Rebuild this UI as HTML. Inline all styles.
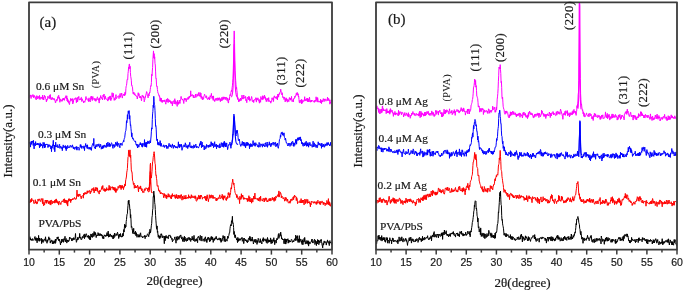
<!DOCTYPE html>
<html><head><meta charset="utf-8"><style>
html,body{margin:0;padding:0;background:#fff;}
body{width:685px;height:292px;overflow:hidden;}
svg{display:block;filter:blur(0.3px);}
.tk{font-family:"Liberation Sans",sans-serif;font-size:10.5px;fill:#1a1a1a;stroke:#1a1a1a;stroke-width:0.2px;}
.lt{font-family:"Liberation Serif",serif;fill:#1a1a1a;stroke:#1a1a1a;stroke-width:0.2px;}
.sm{font-family:"Liberation Serif",serif;font-size:11.4px;fill:#1a1a1a;stroke:#1a1a1a;stroke-width:0.2px;}
.pk{font-family:"Liberation Serif",serif;letter-spacing:0.4px;fill:#1a1a1a;stroke:#1a1a1a;stroke-width:0.2px;}
.pv{stroke-width:0.05px;}
.ax{font-family:"Liberation Serif",serif;font-size:13px;fill:#1a1a1a;stroke:#1a1a1a;stroke-width:0.2px;}
</style></head><body>
<svg width="685" height="292" viewBox="0 0 685 292">
<defs>
<clipPath id="cl"><rect x="29" y="2.3" width="303" height="247.3"/></clipPath>
<clipPath id="cr"><rect x="376" y="2.3" width="301" height="247.3"/></clipPath>
</defs>
<g>
<polyline fill="none" stroke="#ff00ff" stroke-width="1.0" stroke-linejoin="round" points="29.0,97.7 29.3,97.2 29.6,96.6 29.9,95.4 30.2,95.7 30.5,94.9 30.8,97.2 31.1,98.5 31.4,96.1 31.7,95.4 32.0,96.4 32.3,96.1 32.6,96.4 32.9,94.5 33.2,96.5 33.5,97.7 33.8,95.5 34.1,97.3 34.4,95.6 34.7,96.0 35.0,96.4 35.3,98.4 35.6,97.6 35.9,99.1 36.2,99.9 36.5,98.7 36.8,95.6 37.1,97.6 37.4,98.9 37.7,98.2 38.0,96.2 38.3,97.8 38.6,97.1 38.9,96.7 39.2,99.2 39.5,95.4 39.8,96.8 40.1,99.5 40.4,97.5 40.7,97.8 41.0,98.0 41.3,97.9 41.6,97.1 41.9,98.6 42.2,99.2 42.5,95.2 42.8,99.3 43.1,98.5 43.4,97.3 43.7,100.0 44.0,98.4 44.3,95.2 44.6,96.9 44.9,97.1 45.2,96.3 45.5,98.7 45.8,98.7 46.1,99.6 46.4,101.9 46.7,99.2 47.0,100.4 47.3,99.0 47.6,99.0 47.9,96.2 48.2,97.6 48.5,97.4 48.8,97.9 49.1,98.5 49.4,95.3 49.7,96.1 50.0,98.8 50.3,94.5 50.6,97.9 50.9,97.9 51.2,99.9 51.5,98.9 51.8,97.5 52.1,97.5 52.4,97.5 52.7,99.4 53.0,98.0 53.3,98.4 53.6,99.4 53.9,99.4 54.2,100.1 54.5,98.6 54.8,100.5 55.1,100.5 55.4,102.9 55.7,102.5 56.0,100.6 56.3,100.4 56.6,99.5 56.9,101.1 57.2,99.0 57.5,99.4 57.8,96.7 58.1,98.5 58.4,95.9 58.7,95.2 59.0,97.8 59.3,97.2 59.6,99.0 59.9,102.3 60.2,98.8 60.5,99.2 60.8,100.8 61.1,101.1 61.4,100.2 61.7,99.7 62.0,101.4 62.3,101.0 62.6,98.6 62.9,99.8 63.2,99.8 63.5,98.0 63.8,99.9 64.1,98.2 64.4,100.4 64.7,98.8 65.0,98.4 65.3,97.0 65.6,97.6 65.9,95.7 66.2,96.8 66.5,98.7 66.8,95.8 67.1,100.9 67.4,98.2 67.7,101.7 68.0,99.6 68.3,102.6 68.6,102.8 68.9,100.9 69.2,104.2 69.5,104.6 69.8,102.3 70.1,101.2 70.4,100.4 70.7,98.4 71.0,101.2 71.3,98.9 71.6,100.1 71.9,99.0 72.2,99.6 72.5,98.6 72.8,104.0 73.1,101.0 73.4,102.3 73.7,99.6 74.0,98.6 74.3,98.8 74.6,98.8 74.9,99.6 75.2,98.3 75.5,98.6 75.8,97.6 76.1,99.3 76.4,102.7 76.7,99.3 77.0,98.0 77.3,99.8 77.6,101.9 77.9,97.1 78.2,98.4 78.5,98.1 78.8,96.4 79.1,100.2 79.4,99.6 79.7,99.2 80.0,98.9 80.3,99.9 80.6,98.4 80.9,97.7 81.2,97.5 81.5,97.4 81.8,101.5 82.1,98.8 82.4,100.3 82.7,100.3 83.0,100.5 83.3,101.0 83.6,102.9 83.9,101.3 84.2,100.9 84.5,101.6 84.8,102.3 85.1,101.2 85.4,100.2 85.7,98.2 86.0,96.5 86.3,99.3 86.6,99.0 86.9,98.4 87.2,99.6 87.5,100.0 87.8,100.0 88.1,100.5 88.4,99.1 88.7,101.7 89.0,97.8 89.3,100.9 89.6,100.5 89.9,100.5 90.2,101.9 90.5,100.6 90.8,96.7 91.1,96.3 91.4,99.2 91.7,96.1 92.0,98.2 92.3,100.6 92.6,97.1 92.9,96.6 93.2,99.0 93.5,98.8 93.8,99.2 94.1,99.8 94.4,98.5 94.7,98.3 95.0,101.0 95.3,100.9 95.6,98.7 95.9,101.3 96.2,100.2 96.5,100.2 96.8,98.2 97.1,98.0 97.4,96.8 97.7,98.2 98.0,99.9 98.3,98.6 98.6,100.6 98.9,100.5 99.2,103.1 99.5,97.8 99.8,100.1 100.1,98.2 100.4,97.9 100.7,95.5 101.0,96.9 101.3,98.2 101.6,97.5 101.9,98.7 102.2,98.2 102.5,100.0 102.8,98.4 103.1,95.0 103.4,97.0 103.7,95.9 104.0,94.0 104.3,96.6 104.6,99.6 104.9,98.0 105.2,95.9 105.5,96.6 105.8,99.0 106.1,99.1 106.4,98.9 106.7,99.2 107.0,99.0 107.3,100.2 107.6,100.0 107.9,101.1 108.2,97.4 108.5,99.8 108.8,97.4 109.1,99.5 109.4,96.4 109.7,97.9 110.0,98.2 110.3,95.9 110.6,100.2 110.9,100.7 111.2,98.3 111.5,99.2 111.8,97.9 112.1,92.7 112.4,97.1 112.7,95.9 113.0,96.0 113.3,93.3 113.6,96.9 113.9,97.9 114.2,100.4 114.5,98.5 114.8,98.4 115.1,100.1 115.4,96.8 115.7,96.4 116.0,94.6 116.3,98.6 116.6,98.6 116.9,97.4 117.2,97.1 117.5,96.9 117.8,97.0 118.1,96.0 118.4,95.7 118.7,96.5 119.0,98.6 119.3,97.3 119.6,95.9 119.9,94.1 120.2,93.4 120.5,97.3 120.8,95.9 121.1,95.6 121.4,94.9 121.7,93.0 122.0,95.9 122.3,98.1 122.6,96.2 122.9,95.6 123.2,94.7 123.5,95.2 123.8,94.0 124.1,95.4 124.4,93.8 124.7,95.8 125.0,92.2 125.3,94.6 125.6,93.9 125.9,88.4 126.2,86.1 126.5,85.4 126.8,83.1 127.1,79.8 127.4,79.1 127.7,79.6 128.0,73.5 128.3,71.2 128.6,67.1 128.9,67.8 129.2,64.1 129.5,64.1 129.8,68.9 130.1,66.3 130.4,72.4 130.7,76.3 131.0,78.0 131.3,80.2 131.6,85.3 131.9,85.0 132.2,86.9 132.5,87.1 132.8,91.4 133.1,93.8 133.4,94.2 133.7,92.0 134.0,92.6 134.3,94.0 134.6,95.1 134.9,93.6 135.2,94.8 135.5,95.7 135.8,95.2 136.1,95.8 136.4,96.4 136.7,95.9 137.0,97.1 137.3,99.0 137.6,96.8 137.9,95.6 138.2,92.7 138.5,95.6 138.8,93.6 139.1,93.7 139.4,97.8 139.7,97.4 140.0,97.5 140.3,96.0 140.6,98.0 140.9,97.1 141.2,99.3 141.5,100.8 141.8,98.1 142.1,95.2 142.4,95.3 142.7,96.7 143.0,97.1 143.3,95.8 143.6,98.0 143.9,97.1 144.2,101.8 144.5,100.5 144.8,99.8 145.1,96.7 145.4,97.4 145.7,95.3 146.0,94.2 146.3,93.2 146.6,91.6 146.9,91.8 147.2,95.6 147.5,95.5 147.8,96.6 148.1,97.9 148.4,93.7 148.7,94.6 149.0,96.0 149.3,94.5 149.6,92.0 149.9,92.6 150.2,89.8 150.5,87.3 150.8,85.7 151.1,86.2 151.4,82.4 151.7,74.3 152.0,75.8 152.3,71.0 152.6,67.5 152.9,59.7 153.2,54.9 153.5,50.9 153.8,57.9 154.1,53.6 154.4,59.1 154.7,56.8 155.0,63.3 155.3,65.0 155.6,71.9 155.9,78.4 156.2,78.1 156.5,84.9 156.8,86.5 157.1,86.1 157.4,89.4 157.7,91.4 158.0,93.3 158.3,93.4 158.6,94.0 158.9,95.8 159.2,96.3 159.5,95.6 159.8,98.3 160.1,101.2 160.4,97.8 160.7,101.3 161.0,100.0 161.3,98.1 161.6,101.6 161.9,100.6 162.2,102.6 162.5,100.3 162.8,101.5 163.1,101.1 163.4,100.7 163.7,101.4 164.0,100.0 164.3,101.6 164.6,101.1 164.9,99.8 165.2,102.1 165.5,102.6 165.8,104.2 166.1,100.8 166.4,101.4 166.7,99.1 167.0,102.1 167.3,99.1 167.6,98.4 167.9,100.4 168.2,102.6 168.5,99.4 168.8,99.4 169.1,99.7 169.4,100.2 169.7,102.0 170.0,100.4 170.3,100.8 170.6,102.8 170.9,101.5 171.2,103.8 171.5,102.0 171.8,101.9 172.1,101.4 172.4,105.9 172.7,102.6 173.0,102.5 173.3,101.0 173.6,100.8 173.9,100.8 174.2,104.0 174.5,99.5 174.8,98.7 175.1,100.5 175.4,100.4 175.7,104.1 176.0,104.3 176.3,102.4 176.6,101.7 176.9,103.7 177.2,106.4 177.5,100.2 177.8,104.0 178.1,102.0 178.4,104.4 178.7,101.9 179.0,103.1 179.3,100.1 179.6,101.3 179.9,103.6 180.2,101.7 180.5,99.6 180.8,98.4 181.1,96.4 181.4,98.7 181.7,98.4 182.0,99.4 182.3,100.0 182.6,99.1 182.9,100.3 183.2,100.2 183.5,102.1 183.8,103.5 184.1,99.3 184.4,98.2 184.7,100.2 185.0,98.8 185.3,99.1 185.6,99.8 185.9,98.2 186.2,101.7 186.5,100.0 186.8,99.2 187.1,99.8 187.4,98.4 187.7,97.7 188.0,98.6 188.3,97.3 188.6,99.3 188.9,98.4 189.2,96.2 189.5,97.7 189.8,96.1 190.1,97.0 190.4,96.4 190.7,90.8 191.0,96.1 191.3,95.5 191.6,96.1 191.9,94.9 192.2,94.4 192.5,95.2 192.8,96.2 193.1,96.7 193.4,97.8 193.7,95.0 194.0,97.3 194.3,97.9 194.6,97.2 194.9,96.8 195.2,97.4 195.5,94.0 195.8,96.9 196.1,97.3 196.4,96.6 196.7,95.8 197.0,93.9 197.3,94.7 197.6,96.2 197.9,96.2 198.2,94.9 198.5,92.6 198.8,95.3 199.1,96.0 199.4,96.2 199.7,94.5 200.0,92.4 200.3,96.7 200.6,95.6 200.9,93.1 201.2,98.5 201.5,95.9 201.8,96.4 202.1,97.6 202.4,99.9 202.7,97.3 203.0,98.3 203.3,99.4 203.6,99.1 203.9,96.1 204.2,95.7 204.5,94.2 204.8,94.7 205.1,96.2 205.4,96.5 205.7,96.5 206.0,97.9 206.3,95.9 206.6,95.8 206.9,98.5 207.2,98.9 207.5,99.5 207.8,98.4 208.1,98.4 208.4,99.0 208.7,97.6 209.0,96.9 209.3,100.0 209.6,98.4 209.9,99.1 210.2,95.6 210.5,97.1 210.8,96.5 211.1,95.6 211.4,93.4 211.7,96.6 212.0,98.6 212.3,98.4 212.6,96.1 212.9,98.3 213.2,100.4 213.5,95.9 213.8,99.4 214.1,100.2 214.4,99.8 214.7,101.6 215.0,101.1 215.3,98.9 215.6,98.7 215.9,100.1 216.2,98.1 216.5,99.2 216.8,99.9 217.1,100.7 217.4,97.8 217.7,98.8 218.0,98.5 218.3,100.1 218.6,98.0 218.9,100.3 219.2,97.6 219.5,99.0 219.8,98.9 220.1,100.5 220.4,101.7 220.7,98.6 221.0,99.8 221.3,100.8 221.6,99.3 221.9,97.3 222.2,100.5 222.5,98.3 222.8,98.5 223.1,96.8 223.4,99.3 223.7,97.5 224.0,99.4 224.3,96.9 224.6,97.4 224.9,98.2 225.2,97.3 225.5,99.5 225.8,98.8 226.1,97.1 226.4,98.0 226.7,98.0 227.0,100.5 227.3,97.9 227.6,98.7 227.9,101.4 228.2,102.8 228.5,103.0 228.8,99.6 229.1,98.5 229.4,100.0 229.7,96.6 230.0,94.6 230.3,95.7 230.6,95.3 230.9,92.4 231.2,91.2 231.5,90.1 231.8,91.7 232.1,87.6 232.4,85.8 232.7,82.3 233.0,78.6 233.3,68.8 233.6,59.0 233.9,40.0 234.2,30.9 234.5,39.3 234.8,60.5 235.1,70.8 235.4,76.0 235.7,80.7 236.0,84.8 236.3,88.7 236.6,87.4 236.9,90.7 237.2,92.8 237.5,99.4 237.8,97.4 238.1,98.0 238.4,99.8 238.7,101.9 239.0,99.2 239.3,99.2 239.6,101.3 239.9,100.0 240.2,99.8 240.5,98.0 240.8,100.9 241.1,100.4 241.4,99.0 241.7,99.3 242.0,95.1 242.3,98.9 242.6,97.7 242.9,98.8 243.2,99.0 243.5,96.6 243.8,95.0 244.1,98.4 244.4,97.4 244.7,97.1 245.0,97.4 245.3,97.7 245.6,96.4 245.9,100.7 246.2,99.4 246.5,101.1 246.8,102.7 247.1,99.5 247.4,97.0 247.7,97.5 248.0,97.9 248.3,99.7 248.6,99.3 248.9,96.1 249.2,100.0 249.5,97.2 249.8,101.2 250.1,100.6 250.4,99.2 250.7,99.7 251.0,99.2 251.3,98.1 251.6,96.5 251.9,97.6 252.2,101.2 252.5,101.7 252.8,100.6 253.1,100.7 253.4,100.0 253.7,102.6 254.0,100.3 254.3,99.5 254.6,99.7 254.9,100.3 255.2,99.0 255.5,99.2 255.8,97.7 256.1,98.7 256.4,102.1 256.7,98.2 257.0,98.3 257.3,99.7 257.6,100.1 257.9,97.8 258.2,98.9 258.5,100.9 258.8,100.8 259.1,100.7 259.4,103.2 259.7,99.5 260.0,100.0 260.3,100.1 260.6,102.3 260.9,96.5 261.2,98.5 261.5,98.0 261.8,99.7 262.1,99.4 262.4,99.6 262.7,95.7 263.0,99.5 263.3,97.7 263.6,96.6 263.9,98.6 264.2,96.6 264.5,95.1 264.8,98.1 265.1,96.7 265.4,97.1 265.7,100.1 266.0,99.4 266.3,101.7 266.6,99.8 266.9,98.3 267.2,99.1 267.5,99.8 267.8,98.4 268.1,101.5 268.4,99.7 268.7,97.6 269.0,101.4 269.3,100.6 269.6,100.9 269.9,101.6 270.2,102.0 270.5,101.2 270.8,103.2 271.1,100.8 271.4,101.0 271.7,101.4 272.0,97.8 272.3,99.2 272.6,99.5 272.9,99.8 273.2,97.7 273.5,101.5 273.8,97.4 274.1,96.4 274.4,95.8 274.7,97.5 275.0,97.8 275.3,96.8 275.6,97.8 275.9,97.3 276.2,98.8 276.5,96.5 276.8,96.8 277.1,97.9 277.4,99.9 277.7,94.2 278.0,94.9 278.3,94.3 278.6,97.2 278.9,94.0 279.2,93.6 279.5,94.4 279.8,92.4 280.1,92.0 280.4,91.9 280.7,89.1 281.0,90.8 281.3,93.5 281.6,94.6 281.9,94.7 282.2,92.7 282.5,95.4 282.8,97.8 283.1,97.5 283.4,97.6 283.7,96.8 284.0,99.5 284.3,98.1 284.6,97.3 284.9,98.5 285.2,101.9 285.5,99.3 285.8,100.5 286.1,97.8 286.4,100.6 286.7,98.7 287.0,98.9 287.3,102.2 287.6,100.5 287.9,99.4 288.2,100.8 288.5,100.2 288.8,101.7 289.1,99.1 289.4,97.5 289.7,99.4 290.0,99.4 290.3,98.0 290.6,100.2 290.9,98.7 291.2,99.1 291.5,96.4 291.8,100.0 292.1,101.6 292.4,100.9 292.7,100.4 293.0,99.6 293.3,102.0 293.6,98.6 293.9,99.1 294.2,98.9 294.5,98.5 294.8,96.3 295.1,97.3 295.4,95.6 295.7,95.7 296.0,95.2 296.3,93.2 296.6,94.4 296.9,95.3 297.2,92.4 297.5,93.7 297.8,95.1 298.1,93.7 298.4,96.9 298.7,96.0 299.0,99.6 299.3,102.7 299.6,102.9 299.9,100.4 300.2,101.3 300.5,100.4 300.8,101.0 301.1,103.1 301.4,99.3 301.7,103.9 302.0,101.1 302.3,102.7 302.6,102.8 302.9,99.8 303.2,101.2 303.5,101.5 303.8,101.3 304.1,101.3 304.4,100.1 304.7,96.7 305.0,101.0 305.3,100.8 305.6,99.7 305.9,99.0 306.2,100.7 306.5,98.5 306.8,99.0 307.1,100.2 307.4,101.5 307.7,98.0 308.0,101.8 308.3,99.6 308.6,99.0 308.9,102.0 309.2,99.1 309.5,97.1 309.8,99.9 310.1,101.9 310.4,102.2 310.7,100.4 311.0,100.9 311.3,101.9 311.6,100.0 311.9,101.2 312.2,101.1 312.5,100.7 312.8,100.4 313.1,101.4 313.4,101.6 313.7,101.3 314.0,101.1 314.3,102.4 314.6,100.4 314.9,101.5 315.2,101.6 315.5,100.1 315.8,101.2 316.1,96.8 316.4,99.8 316.7,98.3 317.0,101.4 317.3,102.1 317.6,97.5 317.9,99.1 318.2,101.8 318.5,101.4 318.8,102.2 319.1,101.4 319.4,101.5 319.7,101.5 320.0,100.9 320.3,102.6 320.6,99.2 320.9,103.0 321.2,100.4 321.5,103.6 321.8,101.4 322.1,100.4 322.4,101.9 322.7,100.6 323.0,100.0 323.3,98.6 323.6,100.5 323.9,101.6 324.2,101.6 324.5,99.1 324.8,100.1 325.1,98.8 325.4,99.4 325.7,100.3 326.0,101.2 326.3,99.6 326.6,99.9 326.9,99.6 327.2,99.6 327.5,97.1 327.8,100.8 328.1,98.5 328.4,100.2 328.7,98.5 329.0,100.7 329.3,100.7 329.6,99.8 329.9,104.2 330.2,102.1 330.5,103.1 330.8,101.7 331.1,99.8 331.4,100.6 331.7,101.2 332.0,100.2"/>
<polyline fill="none" stroke="#ff00ff" stroke-width="1.1" stroke-linejoin="round" points="231.3,97.1 231.5,96.8 231.6,96.5 231.8,96.2 231.9,95.8 232.1,95.3 232.2,94.8 232.3,94.1 232.5,93.2 232.6,92.2 232.8,90.8 232.9,89.1 233.1,86.8 233.2,83.7 233.3,79.8 233.5,74.7 233.6,68.3 233.8,60.9 233.9,53.1 234.1,46.9 234.2,44.4 234.3,46.9 234.5,53.1 234.6,60.9 234.8,68.3 234.9,74.7 235.1,79.8 235.2,83.7 235.3,86.8 235.5,89.1 235.6,90.8 235.8,92.2 235.9,93.2 236.1,94.1 236.2,94.8 236.3,95.3 236.5,95.8 236.6,96.2 236.8,96.5 236.9,96.8 237.1,97.1"/>
<polyline fill="none" stroke="#0000ff" stroke-width="1.0" stroke-linejoin="round" points="29.0,142.6 29.3,142.6 29.6,142.2 29.9,144.0 30.2,143.9 30.5,147.1 30.8,142.2 31.1,141.5 31.4,144.4 31.7,141.2 32.0,142.3 32.3,142.4 32.6,140.9 32.9,142.5 33.2,145.5 33.5,140.4 33.8,145.1 34.1,148.9 34.4,143.4 34.7,143.6 35.0,144.6 35.3,145.9 35.6,141.6 35.9,144.1 36.2,143.7 36.5,145.0 36.8,144.4 37.1,144.6 37.4,143.2 37.7,144.8 38.0,143.0 38.3,143.9 38.6,144.9 38.9,144.8 39.2,144.2 39.5,147.9 39.8,144.7 40.1,142.8 40.4,146.5 40.7,143.7 41.0,145.9 41.3,144.1 41.6,145.1 41.9,146.0 42.2,145.4 42.5,145.9 42.8,148.2 43.1,142.3 43.4,145.9 43.7,146.2 44.0,143.1 44.3,142.6 44.6,148.0 44.9,144.1 45.2,147.4 45.5,145.3 45.8,144.0 46.1,144.4 46.4,144.2 46.7,144.9 47.0,144.1 47.3,144.2 47.6,145.5 47.9,147.6 48.2,147.3 48.5,145.0 48.8,144.5 49.1,146.7 49.4,145.1 49.7,145.1 50.0,145.1 50.3,146.0 50.6,147.1 50.9,149.0 51.2,146.9 51.5,151.7 51.8,145.9 52.1,148.2 52.4,146.0 52.7,145.0 53.0,143.8 53.3,140.3 53.6,146.2 53.9,146.6 54.2,149.5 54.5,145.1 54.8,151.8 55.1,145.8 55.4,146.8 55.7,142.2 56.0,146.6 56.3,146.1 56.6,146.8 56.9,146.6 57.2,144.6 57.5,147.5 57.8,146.9 58.1,146.5 58.4,146.9 58.7,147.7 59.0,146.1 59.3,144.1 59.6,144.4 59.9,148.4 60.2,147.7 60.5,147.0 60.8,146.2 61.1,147.7 61.4,148.5 61.7,148.0 62.0,146.9 62.3,150.7 62.6,147.8 62.9,146.5 63.2,144.9 63.5,145.7 63.8,147.9 64.1,147.9 64.4,146.3 64.7,146.6 65.0,146.7 65.3,145.5 65.6,148.8 65.9,146.7 66.2,150.7 66.5,146.6 66.8,147.8 67.1,148.8 67.4,146.9 67.7,145.4 68.0,146.5 68.3,147.5 68.6,147.9 68.9,146.8 69.2,147.5 69.5,147.5 69.8,146.2 70.1,145.5 70.4,145.2 70.7,145.8 71.0,147.3 71.3,146.7 71.6,147.2 71.9,145.8 72.2,145.2 72.5,144.9 72.8,147.2 73.1,146.9 73.4,148.8 73.7,146.9 74.0,148.4 74.3,148.5 74.6,149.4 74.9,147.0 75.2,147.3 75.5,147.6 75.8,146.8 76.1,149.3 76.4,149.5 76.7,146.4 77.0,150.2 77.3,147.5 77.6,147.7 77.9,147.3 78.2,147.0 78.5,148.1 78.8,148.4 79.1,150.3 79.4,148.2 79.7,148.0 80.0,147.5 80.3,144.6 80.6,146.7 80.9,144.7 81.2,147.5 81.5,146.1 81.8,148.5 82.1,146.2 82.4,146.5 82.7,146.4 83.0,146.9 83.3,147.6 83.6,148.3 83.9,145.8 84.2,147.2 84.5,150.6 84.8,146.6 85.1,146.9 85.4,145.3 85.7,143.5 86.0,146.4 86.3,145.3 86.6,145.6 86.9,148.0 87.2,148.5 87.5,144.8 87.8,148.6 88.1,148.8 88.4,148.9 88.7,148.7 89.0,147.0 89.3,149.0 89.6,148.2 89.9,147.5 90.2,149.6 90.5,148.0 90.8,147.3 91.1,148.4 91.4,150.4 91.7,147.8 92.0,145.9 92.3,144.7 92.6,144.8 92.9,143.4 93.2,144.9 93.5,145.5 93.8,138.4 94.1,146.3 94.4,147.6 94.7,147.5 95.0,147.0 95.3,149.0 95.6,145.6 95.9,145.0 96.2,144.4 96.5,146.1 96.8,147.1 97.1,146.6 97.4,145.6 97.7,144.3 98.0,145.4 98.3,145.8 98.6,146.1 98.9,143.8 99.2,146.5 99.5,147.5 99.8,145.9 100.1,146.7 100.4,144.1 100.7,144.5 101.0,146.1 101.3,149.2 101.6,148.8 101.9,146.8 102.2,148.5 102.5,145.8 102.8,148.7 103.1,147.2 103.4,145.4 103.7,147.8 104.0,146.2 104.3,145.8 104.6,144.9 104.9,147.0 105.2,146.8 105.5,146.7 105.8,145.6 106.1,147.6 106.4,144.9 106.7,143.1 107.0,146.6 107.3,146.6 107.6,144.9 107.9,142.1 108.2,143.5 108.5,145.4 108.8,144.7 109.1,146.9 109.4,142.9 109.7,145.6 110.0,144.1 110.3,146.5 110.6,144.7 110.9,145.7 111.2,143.8 111.5,142.7 111.8,143.4 112.1,144.3 112.4,144.5 112.7,147.9 113.0,148.4 113.3,146.7 113.6,144.6 113.9,145.9 114.2,144.5 114.5,147.4 114.8,146.0 115.1,146.3 115.4,144.9 115.7,142.2 116.0,143.7 116.3,143.2 116.6,145.5 116.9,144.5 117.2,141.7 117.5,143.7 117.8,146.6 118.1,143.0 118.4,143.7 118.7,144.7 119.0,144.5 119.3,145.2 119.6,145.8 119.9,147.8 120.2,143.1 120.5,145.0 120.8,144.2 121.1,143.7 121.4,143.4 121.7,143.5 122.0,145.5 122.3,143.4 122.6,142.8 122.9,142.3 123.2,141.8 123.5,140.5 123.8,141.8 124.1,139.3 124.4,138.2 124.7,137.7 125.0,135.0 125.3,132.3 125.6,131.2 125.9,130.4 126.2,127.0 126.5,120.7 126.8,122.9 127.1,121.4 127.4,114.7 127.7,119.1 128.0,113.6 128.3,110.8 128.6,113.5 128.9,111.0 129.2,110.7 129.5,119.1 129.8,115.5 130.1,120.8 130.4,125.5 130.7,124.8 131.0,128.8 131.3,131.8 131.6,136.7 131.9,132.9 132.2,136.8 132.5,138.7 132.8,138.0 133.1,137.9 133.4,140.1 133.7,139.8 134.0,140.6 134.3,140.8 134.6,141.3 134.9,141.2 135.2,141.6 135.5,140.9 135.8,143.2 136.1,144.7 136.4,144.1 136.7,145.5 137.0,144.0 137.3,146.7 137.6,148.0 137.9,144.4 138.2,145.4 138.5,145.1 138.8,147.2 139.1,145.8 139.4,145.4 139.7,144.1 140.0,144.2 140.3,142.5 140.6,145.0 140.9,143.0 141.2,144.9 141.5,144.4 141.8,146.5 142.1,144.3 142.4,147.2 142.7,143.3 143.0,144.5 143.3,143.5 143.6,144.4 143.9,144.9 144.2,146.5 144.5,139.6 144.8,145.0 145.1,143.0 145.4,147.0 145.7,142.5 146.0,143.9 146.3,142.2 146.6,147.3 146.9,142.4 147.2,144.0 147.5,143.0 147.8,140.9 148.1,141.9 148.4,143.0 148.7,141.5 149.0,143.9 149.3,142.6 149.6,142.6 149.9,140.6 150.2,141.4 150.5,143.0 150.8,139.0 151.1,136.0 151.4,131.2 151.7,127.8 152.0,129.1 152.3,119.6 152.6,113.9 152.9,111.3 153.2,105.2 153.5,107.5 153.8,96.3 154.1,101.2 154.4,104.8 154.7,105.4 155.0,110.7 155.3,118.7 155.6,126.3 155.9,125.7 156.2,129.1 156.5,137.0 156.8,140.6 157.1,139.4 157.4,139.0 157.7,144.5 158.0,142.5 158.3,145.2 158.6,143.1 158.9,142.3 159.2,143.2 159.5,145.0 159.8,145.4 160.1,140.6 160.4,142.1 160.7,146.3 161.0,144.0 161.3,143.3 161.6,145.9 161.9,146.4 162.2,146.0 162.5,145.9 162.8,146.3 163.1,146.5 163.4,146.7 163.7,144.8 164.0,145.3 164.3,146.0 164.6,147.5 164.9,146.9 165.2,145.4 165.5,145.9 165.8,145.6 166.1,146.3 166.4,145.1 166.7,148.5 167.0,147.8 167.3,146.5 167.6,146.4 167.9,148.6 168.2,147.7 168.5,146.9 168.8,144.3 169.1,143.3 169.4,146.1 169.7,146.5 170.0,146.4 170.3,144.7 170.6,146.8 170.9,145.0 171.2,147.4 171.5,147.7 171.8,146.7 172.1,146.8 172.4,143.9 172.7,145.9 173.0,145.0 173.3,148.4 173.6,146.6 173.9,147.1 174.2,146.5 174.5,145.1 174.8,146.8 175.1,146.1 175.4,147.9 175.7,147.7 176.0,146.6 176.3,147.6 176.6,148.0 176.9,146.7 177.2,148.1 177.5,148.2 177.8,146.4 178.1,145.9 178.4,141.8 178.7,146.0 179.0,147.3 179.3,144.2 179.6,147.7 179.9,146.5 180.2,144.9 180.5,145.7 180.8,144.4 181.1,147.1 181.4,144.3 181.7,146.3 182.0,150.3 182.3,148.0 182.6,148.2 182.9,147.3 183.2,145.7 183.5,146.3 183.8,146.3 184.1,144.7 184.4,146.0 184.7,146.8 185.0,147.0 185.3,142.8 185.6,144.4 185.9,144.0 186.2,147.5 186.5,146.4 186.8,147.2 187.1,145.5 187.4,145.8 187.7,148.6 188.0,147.0 188.3,144.8 188.6,146.7 188.9,147.1 189.2,145.9 189.5,144.1 189.8,142.3 190.1,145.7 190.4,147.6 190.7,146.7 191.0,145.8 191.3,145.8 191.6,148.1 191.9,147.3 192.2,147.2 192.5,146.0 192.8,146.5 193.1,148.4 193.4,145.6 193.7,144.8 194.0,145.7 194.3,147.8 194.6,145.6 194.9,147.2 195.2,145.5 195.5,145.5 195.8,144.1 196.1,145.5 196.4,147.8 196.7,146.4 197.0,147.5 197.3,146.6 197.6,146.8 197.9,146.8 198.2,147.2 198.5,148.1 198.8,146.9 199.1,146.5 199.4,146.0 199.7,143.8 200.0,144.6 200.3,142.6 200.6,144.7 200.9,141.0 201.2,144.3 201.5,147.7 201.8,144.0 202.1,142.1 202.4,144.9 202.7,147.0 203.0,145.8 203.3,145.6 203.6,145.5 203.9,145.3 204.2,150.0 204.5,146.7 204.8,146.0 205.1,145.8 205.4,148.3 205.7,149.1 206.0,148.4 206.3,147.3 206.6,144.4 206.9,147.4 207.2,146.7 207.5,146.3 207.8,145.3 208.1,145.9 208.4,145.2 208.7,147.5 209.0,145.1 209.3,146.1 209.6,146.8 209.9,144.5 210.2,145.4 210.5,145.0 210.8,146.8 211.1,141.7 211.4,145.2 211.7,142.7 212.0,143.8 212.3,145.9 212.6,143.2 212.9,144.5 213.2,143.7 213.5,147.7 213.8,146.4 214.1,146.5 214.4,142.7 214.7,141.7 215.0,146.8 215.3,145.4 215.6,144.9 215.9,146.2 216.2,144.0 216.5,148.8 216.8,146.6 217.1,146.9 217.4,145.2 217.7,146.8 218.0,144.9 218.3,147.2 218.6,147.0 218.9,147.1 219.2,147.9 219.5,147.9 219.8,143.7 220.1,147.8 220.4,147.1 220.7,147.0 221.0,145.6 221.3,142.6 221.6,142.9 221.9,145.0 222.2,146.8 222.5,143.3 222.8,143.4 223.1,146.4 223.4,142.6 223.7,147.3 224.0,144.2 224.3,141.2 224.6,145.4 224.9,146.3 225.2,142.7 225.5,146.8 225.8,144.1 226.1,146.8 226.4,144.7 226.7,142.9 227.0,145.8 227.3,146.8 227.6,149.6 227.9,148.5 228.2,146.4 228.5,144.7 228.8,144.9 229.1,144.9 229.4,143.9 229.7,143.7 230.0,142.1 230.3,146.1 230.6,145.5 230.9,148.3 231.2,146.4 231.5,144.3 231.8,145.0 232.1,140.7 232.4,139.3 232.7,134.5 233.0,135.1 233.3,127.2 233.6,117.1 233.9,114.1 234.2,115.2 234.5,119.1 234.8,124.7 235.1,127.9 235.4,132.8 235.7,135.0 236.0,136.0 236.3,130.8 236.6,130.6 236.9,133.5 237.2,130.1 237.5,132.9 237.8,133.7 238.1,137.7 238.4,140.4 238.7,140.0 239.0,140.7 239.3,139.1 239.6,141.1 239.9,143.9 240.2,144.9 240.5,144.8 240.8,146.4 241.1,144.5 241.4,144.4 241.7,145.2 242.0,142.9 242.3,141.4 242.6,142.1 242.9,145.4 243.2,142.0 243.5,144.2 243.8,142.0 244.1,146.1 244.4,143.5 244.7,146.2 245.0,142.6 245.3,145.1 245.6,147.8 245.9,144.5 246.2,145.8 246.5,145.2 246.8,142.1 247.1,145.3 247.4,145.4 247.7,142.4 248.0,145.3 248.3,143.5 248.6,143.2 248.9,145.2 249.2,144.8 249.5,148.8 249.8,144.1 250.1,146.7 250.4,146.8 250.7,143.5 251.0,144.0 251.3,146.5 251.6,144.4 251.9,145.5 252.2,146.6 252.5,144.7 252.8,143.8 253.1,140.6 253.4,145.2 253.7,144.0 254.0,145.5 254.3,145.3 254.6,142.8 254.9,146.2 255.2,146.3 255.5,145.0 255.8,142.7 256.1,143.8 256.4,144.2 256.7,144.8 257.0,144.3 257.3,146.1 257.6,146.9 257.9,146.6 258.2,145.2 258.5,147.3 258.8,146.8 259.1,142.4 259.4,144.0 259.7,144.4 260.0,147.2 260.3,144.2 260.6,143.9 260.9,143.7 261.2,145.5 261.5,144.4 261.8,144.9 262.1,144.7 262.4,147.2 262.7,145.9 263.0,143.7 263.3,146.0 263.6,144.4 263.9,145.6 264.2,145.3 264.5,146.9 264.8,146.4 265.1,143.2 265.4,144.0 265.7,142.7 266.0,146.6 266.3,145.0 266.6,145.3 266.9,143.7 267.2,142.0 267.5,147.3 267.8,145.2 268.1,144.6 268.4,145.0 268.7,145.3 269.0,143.9 269.3,141.8 269.6,145.1 269.9,143.3 270.2,143.8 270.5,146.0 270.8,146.8 271.1,145.5 271.4,143.0 271.7,145.4 272.0,145.1 272.3,144.5 272.6,143.2 272.9,142.9 273.2,142.0 273.5,144.3 273.8,145.0 274.1,145.4 274.4,142.7 274.7,143.4 275.0,144.0 275.3,142.5 275.6,142.3 275.9,146.8 276.2,144.4 276.5,145.8 276.8,144.2 277.1,145.1 277.4,143.0 277.7,145.9 278.0,147.7 278.3,148.3 278.6,146.3 278.9,145.1 279.2,141.9 279.5,139.4 279.8,138.9 280.1,138.5 280.4,135.3 280.7,137.1 281.0,133.6 281.3,132.6 281.6,133.7 281.9,132.3 282.2,131.9 282.5,135.2 282.8,133.1 283.1,133.2 283.4,135.3 283.7,135.6 284.0,132.8 284.3,137.1 284.6,137.7 284.9,138.1 285.2,140.1 285.5,138.1 285.8,139.7 286.1,141.9 286.4,143.0 286.7,142.9 287.0,143.0 287.3,144.3 287.6,145.8 287.9,145.4 288.2,145.9 288.5,143.7 288.8,143.0 289.1,144.4 289.4,144.1 289.7,143.4 290.0,146.4 290.3,144.2 290.6,143.5 290.9,144.2 291.2,145.4 291.5,142.4 291.8,144.0 292.1,141.6 292.4,141.5 292.7,141.1 293.0,143.0 293.3,146.0 293.6,142.9 293.9,146.5 294.2,142.8 294.5,144.1 294.8,145.3 295.1,144.0 295.4,143.4 295.7,139.4 296.0,142.0 296.3,139.9 296.6,144.2 296.9,139.3 297.2,140.5 297.5,138.1 297.8,138.9 298.1,137.5 298.4,140.3 298.7,138.0 299.0,139.2 299.3,137.2 299.6,137.4 299.9,140.0 300.2,137.8 300.5,136.9 300.8,140.9 301.1,139.4 301.4,141.0 301.7,143.8 302.0,142.3 302.3,144.2 302.6,142.7 302.9,145.9 303.2,146.3 303.5,143.3 303.8,143.4 304.1,143.1 304.4,144.8 304.7,146.0 305.0,142.5 305.3,145.1 305.6,142.8 305.9,143.0 306.2,141.2 306.5,146.3 306.8,143.9 307.1,144.4 307.4,143.2 307.7,146.1 308.0,142.5 308.3,144.8 308.6,147.2 308.9,144.0 309.2,144.2 309.5,145.2 309.8,142.3 310.1,143.1 310.4,145.7 310.7,145.5 311.0,145.8 311.3,144.7 311.6,144.9 311.9,145.1 312.2,147.3 312.5,145.6 312.8,145.0 313.1,141.2 313.4,146.0 313.7,146.9 314.0,144.0 314.3,142.8 314.6,143.8 314.9,146.6 315.2,144.3 315.5,144.6 315.8,145.8 316.1,147.6 316.4,145.5 316.7,146.0 317.0,144.8 317.3,147.7 317.6,146.5 317.9,144.7 318.2,141.8 318.5,143.5 318.8,144.8 319.1,143.0 319.4,145.1 319.7,144.5 320.0,144.6 320.3,145.5 320.6,145.7 320.9,143.5 321.2,144.5 321.5,148.3 321.8,143.1 322.1,145.0 322.4,146.9 322.7,145.3 323.0,144.9 323.3,144.0 323.6,146.1 323.9,147.0 324.2,147.3 324.5,145.6 324.8,146.5 325.1,143.8 325.4,145.7 325.7,144.1 326.0,144.9 326.3,145.2 326.6,145.4 326.9,142.6 327.2,145.5 327.5,142.8 327.8,143.0 328.1,144.6 328.4,142.5 328.7,144.6 329.0,144.7 329.3,144.8 329.6,146.0 329.9,144.5 330.2,145.0 330.5,142.4 330.8,145.7 331.1,145.6 331.4,145.4 331.7,146.1 332.0,146.6"/>
<polyline fill="none" stroke="#0000ff" stroke-width="1.1" stroke-linejoin="round" points="230.1,144.7 230.3,144.6 230.5,144.5 230.7,144.4 230.9,144.3 231.1,144.1 231.3,144.0 231.5,143.7 231.7,143.4 231.9,143.0 232.1,142.4 232.3,141.5 232.5,140.2 232.7,138.3 232.9,135.9 233.1,132.7 233.3,129.0 233.5,124.9 233.7,120.9 233.9,118.0 234.1,116.8 234.3,118.0 234.5,120.9 234.7,124.8 234.9,128.9 235.1,132.7 235.3,135.8 235.5,138.3 235.7,140.1 235.9,141.4 236.1,142.3 236.3,142.9 236.5,143.3 236.7,143.6 236.9,143.8 237.1,144.0 237.3,144.1 237.5,144.2 237.7,144.3 237.9,144.4 238.1,144.5"/>
<polyline fill="none" stroke="#ff0000" stroke-width="1.0" stroke-linejoin="round" points="29.0,201.7 29.3,202.2 29.6,202.0 29.9,203.0 30.2,200.4 30.5,200.1 30.8,202.1 31.1,199.1 31.4,201.9 31.7,198.3 32.0,199.4 32.3,199.7 32.6,200.5 32.9,199.9 33.2,200.0 33.5,200.9 33.8,203.2 34.1,203.8 34.4,203.4 34.7,202.4 35.0,201.6 35.3,199.7 35.6,203.1 35.9,202.9 36.2,201.5 36.5,203.0 36.8,204.1 37.1,202.8 37.4,203.3 37.7,201.5 38.0,199.0 38.3,200.1 38.6,200.2 38.9,201.2 39.2,198.8 39.5,199.7 39.8,199.5 40.1,200.2 40.4,200.6 40.7,201.6 41.0,200.2 41.3,198.5 41.6,199.7 41.9,200.0 42.2,200.5 42.5,203.6 42.8,198.5 43.1,203.0 43.4,204.5 43.7,205.8 44.0,202.2 44.3,204.6 44.6,205.0 44.9,202.7 45.2,200.2 45.5,201.2 45.8,200.2 46.1,203.0 46.4,200.2 46.7,203.4 47.0,201.4 47.3,200.1 47.6,201.3 47.9,200.6 48.2,201.8 48.5,203.7 48.8,201.6 49.1,203.2 49.4,201.3 49.7,202.0 50.0,204.5 50.3,200.4 50.6,204.6 50.9,205.1 51.2,200.3 51.5,200.1 51.8,201.1 52.1,204.0 52.4,201.4 52.7,201.6 53.0,202.5 53.3,202.6 53.6,201.7 53.9,201.1 54.2,203.0 54.5,200.4 54.8,203.2 55.1,200.0 55.4,199.6 55.7,202.4 56.0,202.6 56.3,198.9 56.6,202.4 56.9,200.4 57.2,201.5 57.5,203.3 57.8,201.4 58.1,202.2 58.4,202.0 58.7,205.1 59.0,202.8 59.3,201.1 59.6,201.7 59.9,202.1 60.2,203.9 60.5,203.4 60.8,204.6 61.1,203.7 61.4,202.4 61.7,202.1 62.0,200.9 62.3,201.4 62.6,202.0 62.9,201.5 63.2,200.1 63.5,199.3 63.8,201.4 64.1,202.6 64.4,198.7 64.7,201.6 65.0,202.9 65.3,201.1 65.6,199.9 65.9,203.0 66.2,202.9 66.5,200.4 66.8,203.7 67.1,204.5 67.4,200.6 67.7,206.1 68.0,200.9 68.3,201.6 68.6,198.9 68.9,200.4 69.2,198.6 69.5,200.5 69.8,201.1 70.1,200.1 70.4,199.2 70.7,202.6 71.0,199.2 71.3,200.7 71.6,199.3 71.9,199.6 72.2,199.4 72.5,200.0 72.8,198.4 73.1,198.3 73.4,198.8 73.7,199.5 74.0,199.2 74.3,197.8 74.6,197.4 74.9,198.5 75.2,199.1 75.5,199.3 75.8,199.6 76.1,198.0 76.4,198.6 76.7,195.9 77.0,190.1 77.3,196.4 77.6,194.6 77.9,194.5 78.2,194.4 78.5,196.6 78.8,194.2 79.1,195.9 79.4,195.5 79.7,194.1 80.0,194.0 80.3,196.8 80.6,196.6 80.9,196.5 81.2,198.8 81.5,196.2 81.8,196.2 82.1,196.0 82.4,196.1 82.7,195.8 83.0,195.3 83.3,198.2 83.6,193.0 83.9,195.1 84.2,195.0 84.5,194.3 84.8,192.5 85.1,193.6 85.4,193.9 85.7,192.5 86.0,194.2 86.3,193.2 86.6,192.8 86.9,193.9 87.2,190.8 87.5,192.8 87.8,190.9 88.1,192.1 88.4,191.8 88.7,192.4 89.0,190.7 89.3,190.3 89.6,190.4 89.9,192.6 90.2,193.9 90.5,193.3 90.8,191.1 91.1,192.2 91.4,189.5 91.7,188.8 92.0,190.0 92.3,189.1 92.6,188.6 92.9,188.3 93.2,191.0 93.5,188.6 93.8,187.5 94.1,192.9 94.4,190.4 94.7,189.6 95.0,190.8 95.3,188.5 95.6,191.0 95.9,187.1 96.2,188.0 96.5,189.1 96.8,188.1 97.1,191.1 97.4,187.8 97.7,190.1 98.0,192.2 98.3,191.4 98.6,192.6 98.9,193.0 99.2,194.1 99.5,190.5 99.8,191.3 100.1,192.0 100.4,190.4 100.7,190.5 101.0,189.7 101.3,189.7 101.6,187.5 101.9,187.7 102.2,186.1 102.5,188.6 102.8,185.5 103.1,190.3 103.4,190.2 103.7,190.5 104.0,189.1 104.3,188.5 104.6,191.2 104.9,190.3 105.2,191.6 105.5,188.9 105.8,191.0 106.1,189.0 106.4,190.4 106.7,187.6 107.0,188.7 107.3,190.2 107.6,189.7 107.9,189.1 108.2,189.9 108.5,188.7 108.8,190.5 109.1,185.3 109.4,190.0 109.7,189.5 110.0,186.3 110.3,187.8 110.6,190.2 110.9,187.6 111.2,187.5 111.5,187.6 111.8,186.9 112.1,187.3 112.4,186.7 112.7,188.6 113.0,189.7 113.3,189.5 113.6,187.2 113.9,190.1 114.2,189.8 114.5,187.7 114.8,190.9 115.1,187.5 115.4,192.2 115.7,189.1 116.0,192.5 116.3,190.1 116.6,188.7 116.9,190.7 117.2,189.7 117.5,189.5 117.8,189.7 118.1,186.4 118.4,187.7 118.7,188.2 119.0,186.4 119.3,185.4 119.6,185.3 119.9,187.5 120.2,188.1 120.5,186.2 120.8,185.1 121.1,189.6 121.4,185.8 121.7,187.8 122.0,186.5 122.3,185.3 122.6,187.8 122.9,186.7 123.2,188.6 123.5,189.6 123.8,186.6 124.1,187.3 124.4,187.0 124.7,184.1 125.0,184.0 125.3,185.9 125.6,181.0 125.9,179.4 126.2,178.0 126.5,176.0 126.8,172.1 127.1,170.7 127.4,168.5 127.7,162.8 128.0,157.1 128.3,156.5 128.6,150.2 128.9,149.9 129.2,152.6 129.5,156.5 129.8,150.6 130.1,149.9 130.4,157.6 130.7,155.2 131.0,162.3 131.3,169.9 131.6,171.7 131.9,171.5 132.2,174.1 132.5,180.3 132.8,181.0 133.1,181.7 133.4,184.6 133.7,184.4 134.0,183.0 134.3,188.3 134.6,186.5 134.9,184.9 135.2,185.3 135.5,187.9 135.8,186.6 136.1,187.8 136.4,186.6 136.7,187.6 137.0,186.6 137.3,186.8 137.6,185.1 137.9,186.2 138.2,189.2 138.5,191.9 138.8,187.4 139.1,186.7 139.4,188.4 139.7,188.7 140.0,187.7 140.3,188.8 140.6,185.9 140.9,187.8 141.2,189.5 141.5,190.7 141.8,188.5 142.1,188.9 142.4,190.4 142.7,192.5 143.0,192.3 143.3,191.5 143.6,192.3 143.9,192.7 144.2,189.8 144.5,188.7 144.8,190.6 145.1,189.7 145.4,190.2 145.7,189.2 146.0,187.7 146.3,188.5 146.6,188.3 146.9,188.0 147.2,188.8 147.5,188.9 147.8,191.2 148.1,188.0 148.4,188.8 148.7,187.5 149.0,190.1 149.3,186.5 149.6,181.4 149.9,174.3 150.2,165.0 150.5,163.1 150.8,173.8 151.1,176.3 151.4,178.1 151.7,174.9 152.0,171.5 152.3,166.1 152.6,161.9 152.9,161.1 153.2,157.3 153.5,155.3 153.8,153.3 154.1,151.7 154.4,153.7 154.7,158.0 155.0,163.3 155.3,164.1 155.6,170.6 155.9,175.3 156.2,174.9 156.5,178.7 156.8,180.1 157.1,185.5 157.4,186.3 157.7,185.6 158.0,185.4 158.3,187.8 158.6,190.6 158.9,189.8 159.2,190.8 159.5,192.1 159.8,190.5 160.1,192.5 160.4,193.9 160.7,192.5 161.0,192.2 161.3,193.4 161.6,193.0 161.9,193.0 162.2,194.1 162.5,194.0 162.8,193.1 163.1,193.7 163.4,195.5 163.7,197.9 164.0,197.4 164.3,193.5 164.6,196.1 164.9,195.4 165.2,194.5 165.5,196.2 165.8,197.3 166.1,198.2 166.4,194.9 166.7,198.7 167.0,196.0 167.3,195.9 167.6,197.1 167.9,196.1 168.2,193.6 168.5,195.6 168.8,197.2 169.1,194.5 169.4,196.9 169.7,196.0 170.0,197.1 170.3,197.2 170.6,198.4 170.9,196.0 171.2,195.1 171.5,198.9 171.8,195.2 172.1,194.5 172.4,193.6 172.7,196.6 173.0,195.4 173.3,196.2 173.6,195.1 173.9,195.5 174.2,194.8 174.5,195.0 174.8,197.3 175.1,196.9 175.4,198.6 175.7,195.3 176.0,195.1 176.3,194.4 176.6,198.1 176.9,194.9 177.2,197.3 177.5,198.6 177.8,197.3 178.1,198.6 178.4,195.2 178.7,197.2 179.0,195.0 179.3,198.1 179.6,197.4 179.9,196.0 180.2,198.5 180.5,197.4 180.8,194.8 181.1,195.7 181.4,194.6 181.7,196.7 182.0,200.2 182.3,196.0 182.6,197.9 182.9,196.9 183.2,199.3 183.5,199.2 183.8,197.7 184.1,195.5 184.4,197.3 184.7,199.0 185.0,197.7 185.3,199.1 185.6,196.6 185.9,195.2 186.2,198.1 186.5,198.7 186.8,197.9 187.1,197.3 187.4,197.9 187.7,197.2 188.0,198.6 188.3,198.0 188.6,194.7 188.9,197.8 189.2,196.9 189.5,196.5 189.8,198.1 190.1,196.6 190.4,198.2 190.7,198.5 191.0,196.9 191.3,194.7 191.6,196.0 191.9,198.0 192.2,196.6 192.5,195.8 192.8,196.7 193.1,197.8 193.4,197.5 193.7,197.8 194.0,195.9 194.3,196.9 194.6,197.1 194.9,198.5 195.2,195.7 195.5,198.3 195.8,196.7 196.1,200.7 196.4,201.2 196.7,201.2 197.0,200.1 197.3,197.5 197.6,199.6 197.9,198.2 198.2,198.8 198.5,195.3 198.8,195.3 199.1,197.4 199.4,199.1 199.7,195.7 200.0,198.8 200.3,198.9 200.6,195.1 200.9,197.1 201.2,195.1 201.5,196.4 201.8,196.4 202.1,197.1 202.4,199.2 202.7,198.1 203.0,197.4 203.3,197.1 203.6,197.5 203.9,197.9 204.2,197.9 204.5,196.6 204.8,198.3 205.1,196.0 205.4,199.0 205.7,200.4 206.0,198.3 206.3,196.5 206.6,200.9 206.9,197.9 207.2,194.8 207.5,198.5 207.8,198.3 208.1,198.7 208.4,201.7 208.7,199.1 209.0,198.4 209.3,194.7 209.6,195.8 209.9,198.3 210.2,198.2 210.5,195.4 210.8,195.9 211.1,197.8 211.4,194.8 211.7,195.5 212.0,197.4 212.3,198.3 212.6,197.5 212.9,195.1 213.2,198.4 213.5,196.6 213.8,198.3 214.1,197.4 214.4,198.0 214.7,198.1 215.0,197.3 215.3,198.9 215.6,199.3 215.9,198.9 216.2,201.0 216.5,198.2 216.8,200.7 217.1,200.0 217.4,198.6 217.7,199.5 218.0,198.3 218.3,197.6 218.6,198.1 218.9,198.9 219.2,196.6 219.5,196.7 219.8,194.8 220.1,197.5 220.4,198.7 220.7,198.4 221.0,198.5 221.3,196.7 221.6,196.1 221.9,197.5 222.2,194.3 222.5,196.4 222.8,199.2 223.1,196.8 223.4,200.2 223.7,195.7 224.0,197.8 224.3,196.0 224.6,197.6 224.9,195.7 225.2,199.1 225.5,199.2 225.8,199.1 226.1,200.3 226.4,200.6 226.7,197.5 227.0,199.2 227.3,197.1 227.6,196.2 227.9,198.2 228.2,192.8 228.5,194.7 228.8,192.5 229.1,193.7 229.4,193.6 229.7,197.5 230.0,194.2 230.3,194.6 230.6,192.6 230.9,188.0 231.2,187.5 231.5,189.1 231.8,184.9 232.1,182.8 232.4,182.1 232.7,179.1 233.0,181.3 233.3,184.2 233.6,184.6 233.9,183.0 234.2,186.2 234.5,188.5 234.8,190.7 235.1,192.6 235.4,193.4 235.7,194.4 236.0,194.2 236.3,194.6 236.6,197.5 236.9,194.6 237.2,197.4 237.5,196.2 237.8,196.9 238.1,199.4 238.4,198.2 238.7,197.9 239.0,198.8 239.3,199.8 239.6,203.6 239.9,196.3 240.2,198.5 240.5,198.3 240.8,199.6 241.1,197.0 241.4,193.7 241.7,198.5 242.0,195.3 242.3,197.0 242.6,195.0 242.9,195.4 243.2,196.6 243.5,199.2 243.8,199.5 244.1,197.6 244.4,199.1 244.7,198.2 245.0,198.9 245.3,198.8 245.6,199.1 245.9,198.3 246.2,198.8 246.5,199.4 246.8,199.2 247.1,198.0 247.4,201.6 247.7,199.0 248.0,199.8 248.3,200.1 248.6,200.7 248.9,195.7 249.2,201.6 249.5,198.4 249.8,197.0 250.1,199.3 250.4,202.0 250.7,200.2 251.0,198.7 251.3,201.0 251.6,203.2 251.9,198.4 252.2,199.9 252.5,198.9 252.8,202.1 253.1,198.3 253.4,199.1 253.7,196.0 254.0,196.6 254.3,199.2 254.6,197.6 254.9,193.1 255.2,198.6 255.5,199.1 255.8,197.9 256.1,198.7 256.4,198.8 256.7,199.2 257.0,199.2 257.3,199.3 257.6,199.8 257.9,198.1 258.2,200.6 258.5,198.9 258.8,200.9 259.1,199.1 259.4,197.3 259.7,199.3 260.0,201.4 260.3,200.2 260.6,196.1 260.9,199.6 261.2,199.8 261.5,200.2 261.8,199.6 262.1,199.8 262.4,201.1 262.7,199.6 263.0,198.5 263.3,198.1 263.6,198.5 263.9,200.4 264.2,202.0 264.5,198.6 264.8,201.1 265.1,200.0 265.4,197.8 265.7,199.4 266.0,199.7 266.3,197.9 266.6,198.5 266.9,201.6 267.2,200.8 267.5,202.0 267.8,200.5 268.1,200.9 268.4,201.3 268.7,200.3 269.0,198.7 269.3,200.1 269.6,201.0 269.9,198.3 270.2,201.1 270.5,200.4 270.8,198.3 271.1,200.0 271.4,200.4 271.7,200.1 272.0,200.0 272.3,197.3 272.6,197.8 272.9,200.1 273.2,197.9 273.5,198.8 273.8,200.0 274.1,201.4 274.4,197.2 274.7,200.3 275.0,198.0 275.3,200.4 275.6,200.3 275.9,196.1 276.2,197.9 276.5,197.1 276.8,196.8 277.1,196.5 277.4,195.3 277.7,194.7 278.0,196.5 278.3,196.7 278.6,194.0 278.9,190.9 279.2,197.1 279.5,194.8 279.8,194.8 280.1,191.9 280.4,192.5 280.7,193.7 281.0,193.4 281.3,197.9 281.6,195.8 281.9,196.8 282.2,196.4 282.5,196.7 282.8,196.9 283.1,198.8 283.4,197.8 283.7,198.7 284.0,199.1 284.3,199.3 284.6,201.2 284.9,198.2 285.2,197.2 285.5,198.9 285.8,200.5 286.1,197.6 286.4,198.2 286.7,199.1 287.0,201.3 287.3,201.0 287.6,199.1 287.9,200.8 288.2,202.8 288.5,203.1 288.8,202.7 289.1,203.0 289.4,201.4 289.7,202.0 290.0,203.3 290.3,200.6 290.6,202.2 290.9,199.1 291.2,200.5 291.5,199.9 291.8,198.9 292.1,200.5 292.4,198.4 292.7,197.8 293.0,197.8 293.3,196.8 293.6,199.7 293.9,196.5 294.2,197.5 294.5,195.0 294.8,195.7 295.1,196.5 295.4,196.6 295.7,196.2 296.0,197.1 296.3,200.6 296.6,197.4 296.9,198.7 297.2,198.6 297.5,203.7 297.8,203.2 298.1,202.4 298.4,202.0 298.7,201.7 299.0,202.2 299.3,202.7 299.6,202.2 299.9,200.6 300.2,200.4 300.5,203.0 300.8,202.7 301.1,198.6 301.4,201.5 301.7,203.0 302.0,200.7 302.3,202.2 302.6,200.0 302.9,202.9 303.2,201.1 303.5,200.0 303.8,201.6 304.1,204.9 304.4,200.3 304.7,199.3 305.0,200.7 305.3,200.5 305.6,203.6 305.9,199.3 306.2,199.2 306.5,201.5 306.8,202.5 307.1,202.6 307.4,203.4 307.7,199.4 308.0,200.9 308.3,201.5 308.6,203.0 308.9,202.4 309.2,202.1 309.5,201.6 309.8,204.2 310.1,204.4 310.4,206.9 310.7,202.9 311.0,204.9 311.3,201.2 311.6,202.1 311.9,201.9 312.2,202.2 312.5,201.7 312.8,201.6 313.1,202.6 313.4,202.4 313.7,203.3 314.0,201.5 314.3,201.6 314.6,203.1 314.9,202.8 315.2,202.5 315.5,201.9 315.8,202.0 316.1,204.3 316.4,201.6 316.7,204.3 317.0,204.2 317.3,203.4 317.6,201.8 317.9,200.2 318.2,201.6 318.5,202.4 318.8,203.2 319.1,202.4 319.4,201.8 319.7,204.3 320.0,201.4 320.3,203.7 320.6,204.6 320.9,201.5 321.2,202.6 321.5,202.8 321.8,201.8 322.1,200.9 322.4,201.5 322.7,202.8 323.0,202.7 323.3,204.7 323.6,202.3 323.9,203.2 324.2,203.8 324.5,202.8 324.8,202.8 325.1,205.7 325.4,204.6 325.7,203.0 326.0,204.0 326.3,204.3 326.6,204.5 326.9,200.4 327.2,202.0 327.5,204.2 327.8,202.2 328.1,203.9 328.4,198.6 328.7,204.9 329.0,204.0 329.3,201.7 329.6,205.3 329.9,205.9 330.2,206.2 330.5,206.1 330.8,203.6 331.1,202.7 331.4,203.1 331.7,203.7 332.0,203.6"/>
<polyline fill="none" stroke="#ff0000" stroke-width="1.1" stroke-linejoin="round" points="148.1,191.7 148.2,191.7 148.3,191.7 148.4,191.7 148.5,191.7 148.7,191.7 148.8,191.7 148.9,191.6 149.0,191.5 149.1,191.3 149.2,190.9 149.3,190.3 149.4,189.3 149.5,187.8 149.6,185.8 149.8,183.2 149.9,180.2 150.0,177.1 150.1,174.3 150.2,172.3 150.3,171.5 150.4,172.3 150.5,174.4 150.6,177.2 150.7,180.4 150.9,183.5 151.0,186.1 151.1,188.2 151.2,189.7 151.3,190.8 151.4,191.4 151.5,191.9 151.6,192.1 151.7,192.3 151.8,192.4 151.9,192.5 152.1,192.6 152.2,192.6 152.3,192.7 152.4,192.7 152.5,192.8"/>
<polyline fill="none" stroke="#000000" stroke-width="1.0" stroke-linejoin="round" points="29.0,239.1 29.3,239.2 29.6,238.0 29.9,236.7 30.2,240.0 30.5,238.3 30.8,240.1 31.1,240.3 31.4,239.2 31.7,239.2 32.0,240.7 32.3,239.6 32.6,238.6 32.9,240.2 33.2,240.3 33.5,240.2 33.8,239.7 34.1,239.2 34.4,238.7 34.7,237.1 35.0,236.5 35.3,240.5 35.6,238.1 35.9,239.5 36.2,237.7 36.5,240.4 36.8,238.6 37.1,242.8 37.4,238.1 37.7,238.4 38.0,240.5 38.3,240.3 38.6,235.4 38.9,240.1 39.2,241.3 39.5,238.1 39.8,241.1 40.1,240.0 40.4,239.5 40.7,239.1 41.0,239.2 41.3,238.2 41.6,243.6 41.9,238.9 42.2,239.2 42.5,241.5 42.8,240.4 43.1,242.5 43.4,239.8 43.7,240.2 44.0,240.2 44.3,239.6 44.6,239.0 44.9,238.8 45.2,241.3 45.5,236.8 45.8,239.1 46.1,239.9 46.4,241.3 46.7,241.3 47.0,243.3 47.3,239.8 47.6,241.7 47.9,240.9 48.2,239.3 48.5,239.6 48.8,236.8 49.1,239.0 49.4,239.6 49.7,238.1 50.0,239.9 50.3,243.1 50.6,241.0 50.9,242.0 51.2,241.0 51.5,240.1 51.8,239.9 52.1,241.5 52.4,243.9 52.7,242.1 53.0,240.7 53.3,243.8 53.6,241.9 53.9,241.6 54.2,243.0 54.5,240.9 54.8,240.6 55.1,243.6 55.4,239.0 55.7,242.6 56.0,239.4 56.3,240.3 56.6,240.1 56.9,239.4 57.2,237.0 57.5,239.0 57.8,238.2 58.1,236.8 58.4,238.6 58.7,240.7 59.0,239.1 59.3,240.7 59.6,239.4 59.9,242.3 60.2,242.6 60.5,244.9 60.8,242.3 61.1,241.4 61.4,243.0 61.7,239.2 62.0,242.1 62.3,239.3 62.6,239.3 62.9,241.1 63.2,240.6 63.5,242.3 63.8,238.7 64.1,240.3 64.4,239.3 64.7,239.3 65.0,236.3 65.3,241.9 65.6,239.9 65.9,239.1 66.2,238.5 66.5,239.6 66.8,243.1 67.1,241.1 67.4,239.9 67.7,241.5 68.0,240.2 68.3,240.8 68.6,241.7 68.9,240.2 69.2,240.5 69.5,237.2 69.8,238.5 70.1,237.5 70.4,238.4 70.7,238.4 71.0,238.6 71.3,238.6 71.6,240.8 71.9,238.6 72.2,238.2 72.5,240.6 72.8,240.4 73.1,238.6 73.4,239.6 73.7,237.6 74.0,238.1 74.3,239.6 74.6,238.9 74.9,238.3 75.2,237.2 75.5,233.5 75.8,238.7 76.1,240.0 76.4,242.3 76.7,241.3 77.0,239.0 77.3,240.1 77.6,237.4 77.9,239.9 78.2,239.0 78.5,238.9 78.8,237.5 79.1,236.9 79.4,237.9 79.7,233.4 80.0,237.9 80.3,238.4 80.6,237.3 80.9,237.3 81.2,239.8 81.5,238.9 81.8,239.2 82.1,238.5 82.4,236.5 82.7,237.5 83.0,238.0 83.3,235.7 83.6,235.8 83.9,234.6 84.2,237.4 84.5,238.7 84.8,233.9 85.1,236.9 85.4,237.2 85.7,235.2 86.0,235.4 86.3,233.7 86.6,234.6 86.9,235.6 87.2,237.1 87.5,236.0 87.8,237.3 88.1,236.3 88.4,235.3 88.7,238.1 89.0,238.7 89.3,235.9 89.6,239.6 89.9,238.2 90.2,237.3 90.5,239.9 90.8,234.0 91.1,234.0 91.4,236.9 91.7,235.2 92.0,234.3 92.3,237.5 92.6,235.6 92.9,233.2 93.2,233.8 93.5,235.8 93.8,236.6 94.1,231.5 94.4,235.4 94.7,234.6 95.0,232.1 95.3,235.1 95.6,233.1 95.9,235.3 96.2,237.6 96.5,234.9 96.8,235.3 97.1,235.3 97.4,235.6 97.7,236.0 98.0,232.6 98.3,233.8 98.6,235.5 98.9,233.3 99.2,234.0 99.5,235.2 99.8,235.9 100.1,233.8 100.4,233.7 100.7,235.5 101.0,235.2 101.3,234.2 101.6,235.9 101.9,236.0 102.2,234.9 102.5,238.4 102.8,237.2 103.1,236.7 103.4,236.3 103.7,238.9 104.0,236.5 104.3,234.8 104.6,235.9 104.9,235.6 105.2,235.0 105.5,236.5 105.8,236.3 106.1,236.3 106.4,234.7 106.7,236.1 107.0,232.6 107.3,236.0 107.6,234.6 107.9,234.8 108.2,231.1 108.5,237.2 108.8,233.8 109.1,234.6 109.4,236.8 109.7,235.4 110.0,235.9 110.3,233.9 110.6,235.5 110.9,235.9 111.2,237.0 111.5,235.2 111.8,236.5 112.1,237.3 112.4,236.2 112.7,235.9 113.0,239.0 113.3,234.9 113.6,238.4 113.9,236.7 114.2,237.5 114.5,233.1 114.8,236.2 115.1,236.4 115.4,235.8 115.7,235.7 116.0,233.6 116.3,234.4 116.6,234.0 116.9,235.6 117.2,233.8 117.5,232.2 117.8,233.5 118.1,234.9 118.4,234.8 118.7,238.5 119.0,236.7 119.3,236.7 119.6,234.0 119.9,235.0 120.2,236.8 120.5,233.5 120.8,235.3 121.1,236.1 121.4,236.2 121.7,237.2 122.0,236.1 122.3,236.9 122.6,233.9 122.9,233.3 123.2,236.1 123.5,232.7 123.8,229.5 124.1,232.1 124.4,227.3 124.7,224.2 125.0,228.2 125.3,228.0 125.6,225.2 125.9,226.8 126.2,221.6 126.5,219.4 126.8,216.1 127.1,214.1 127.4,213.8 127.7,208.9 128.0,205.3 128.3,200.8 128.6,203.6 128.9,200.1 129.2,205.1 129.5,204.4 129.8,209.4 130.1,209.1 130.4,217.7 130.7,214.6 131.0,219.9 131.3,227.4 131.6,226.3 131.9,226.8 132.2,229.9 132.5,230.8 132.8,233.5 133.1,228.9 133.4,232.0 133.7,228.3 134.0,234.0 134.3,232.5 134.6,232.8 134.9,234.2 135.2,233.8 135.5,231.2 135.8,235.6 136.1,234.9 136.4,232.7 136.7,236.7 137.0,237.3 137.3,236.7 137.6,235.8 137.9,234.2 138.2,235.3 138.5,237.2 138.8,235.4 139.1,236.9 139.4,234.7 139.7,237.1 140.0,237.2 140.3,233.4 140.6,232.8 140.9,235.3 141.2,236.3 141.5,236.4 141.8,236.0 142.1,236.1 142.4,237.8 142.7,237.0 143.0,237.1 143.3,237.3 143.6,236.8 143.9,237.0 144.2,235.9 144.5,236.8 144.8,235.3 145.1,238.7 145.4,236.4 145.7,236.9 146.0,235.8 146.3,236.2 146.6,236.7 146.9,236.1 147.2,234.8 147.5,233.8 147.8,234.4 148.1,234.8 148.4,235.2 148.7,236.7 149.0,234.1 149.3,231.9 149.6,234.3 149.9,229.3 150.2,230.9 150.5,232.8 150.8,230.9 151.1,228.0 151.4,225.2 151.7,223.3 152.0,217.1 152.3,215.7 152.6,210.1 152.9,208.8 153.2,196.8 153.5,197.2 153.8,191.1 154.1,195.5 154.4,195.3 154.7,202.8 155.0,204.7 155.3,209.5 155.6,215.6 155.9,220.2 156.2,223.9 156.5,228.4 156.8,229.3 157.1,225.9 157.4,232.4 157.7,231.2 158.0,235.2 158.3,237.2 158.6,234.9 158.9,235.7 159.2,238.3 159.5,235.9 159.8,238.6 160.1,236.0 160.4,235.9 160.7,237.5 161.0,233.8 161.3,235.1 161.6,233.8 161.9,235.8 162.2,237.4 162.5,237.9 162.8,235.7 163.1,236.5 163.4,236.1 163.7,236.6 164.0,238.6 164.3,243.7 164.6,236.0 164.9,236.4 165.2,240.7 165.5,236.4 165.8,238.3 166.1,235.4 166.4,237.7 166.7,237.9 167.0,237.0 167.3,237.8 167.6,236.6 167.9,236.9 168.2,238.8 168.5,237.7 168.8,235.1 169.1,234.9 169.4,236.0 169.7,235.7 170.0,235.6 170.3,235.4 170.6,237.5 170.9,236.6 171.2,238.2 171.5,238.3 171.8,239.5 172.1,238.3 172.4,241.8 172.7,240.8 173.0,240.8 173.3,239.8 173.6,239.8 173.9,239.7 174.2,239.4 174.5,238.7 174.8,236.9 175.1,239.7 175.4,239.6 175.7,239.7 176.0,243.2 176.3,236.7 176.6,239.4 176.9,240.5 177.2,240.3 177.5,240.0 177.8,236.3 178.1,237.0 178.4,239.2 178.7,237.4 179.0,239.4 179.3,236.3 179.6,236.3 179.9,237.7 180.2,235.4 180.5,236.0 180.8,234.9 181.1,237.1 181.4,237.7 181.7,239.1 182.0,236.8 182.3,238.2 182.6,241.3 182.9,241.5 183.2,239.0 183.5,239.5 183.8,237.6 184.1,241.9 184.4,236.2 184.7,240.3 185.0,237.1 185.3,240.1 185.6,239.2 185.9,241.1 186.2,241.4 186.5,241.2 186.8,238.8 187.1,238.1 187.4,241.0 187.7,240.1 188.0,238.1 188.3,237.4 188.6,238.7 188.9,238.9 189.2,240.1 189.5,237.6 189.8,239.1 190.1,238.1 190.4,240.9 190.7,241.5 191.0,238.9 191.3,239.1 191.6,240.1 191.9,238.3 192.2,236.3 192.5,239.7 192.8,238.5 193.1,237.9 193.4,240.7 193.7,239.2 194.0,235.4 194.3,239.2 194.6,239.2 194.9,241.6 195.2,239.4 195.5,239.5 195.8,240.9 196.1,240.9 196.4,238.6 196.7,240.5 197.0,239.5 197.3,241.6 197.6,242.7 197.9,236.9 198.2,237.5 198.5,236.2 198.8,236.7 199.1,237.4 199.4,238.1 199.7,240.2 200.0,237.3 200.3,235.4 200.6,236.6 200.9,240.3 201.2,241.1 201.5,237.2 201.8,236.1 202.1,238.9 202.4,240.5 202.7,240.8 203.0,240.6 203.3,240.3 203.6,240.2 203.9,238.8 204.2,241.5 204.5,239.1 204.8,237.9 205.1,237.5 205.4,236.8 205.7,239.2 206.0,241.3 206.3,239.1 206.6,242.1 206.9,242.6 207.2,240.9 207.5,237.7 207.8,238.4 208.1,239.5 208.4,237.0 208.7,237.4 209.0,239.3 209.3,240.1 209.6,241.7 209.9,238.2 210.2,241.2 210.5,240.9 210.8,239.1 211.1,236.7 211.4,239.3 211.7,236.5 212.0,239.6 212.3,239.9 212.6,237.2 212.9,238.7 213.2,242.4 213.5,240.6 213.8,238.8 214.1,240.6 214.4,240.0 214.7,238.3 215.0,238.8 215.3,237.6 215.6,237.9 215.9,239.3 216.2,236.3 216.5,238.8 216.8,238.6 217.1,239.0 217.4,238.8 217.7,240.1 218.0,239.2 218.3,239.7 218.6,238.7 218.9,238.9 219.2,237.8 219.5,238.9 219.8,240.0 220.1,239.9 220.4,240.6 220.7,238.0 221.0,242.4 221.3,239.6 221.6,241.6 221.9,239.9 222.2,240.5 222.5,237.9 222.8,237.3 223.1,235.5 223.4,237.9 223.7,236.7 224.0,240.2 224.3,241.5 224.6,236.2 224.9,236.5 225.2,240.1 225.5,241.6 225.8,239.5 226.1,239.1 226.4,239.2 226.7,239.8 227.0,241.2 227.3,239.4 227.6,236.2 227.9,237.4 228.2,238.3 228.5,236.2 228.8,235.5 229.1,234.0 229.4,232.5 229.7,232.7 230.0,228.8 230.3,226.3 230.6,225.0 230.9,224.5 231.2,225.9 231.5,220.7 231.8,222.0 232.1,220.7 232.4,216.3 232.7,223.3 233.0,222.8 233.3,224.3 233.6,227.6 233.9,234.5 234.2,231.4 234.5,234.8 234.8,237.4 235.1,237.8 235.4,234.8 235.7,237.7 236.0,237.6 236.3,238.2 236.6,240.0 236.9,238.8 237.2,239.5 237.5,242.6 237.8,237.4 238.1,240.0 238.4,241.4 238.7,238.7 239.0,240.2 239.3,238.7 239.6,240.4 239.9,239.2 240.2,240.1 240.5,240.2 240.8,238.8 241.1,238.2 241.4,239.0 241.7,238.8 242.0,237.3 242.3,241.3 242.6,240.7 242.9,241.0 243.2,238.2 243.5,243.3 243.8,243.7 244.1,241.5 244.4,238.2 244.7,239.4 245.0,239.9 245.3,240.8 245.6,239.5 245.9,240.8 246.2,239.9 246.5,241.7 246.8,240.8 247.1,241.8 247.4,242.8 247.7,240.5 248.0,241.9 248.3,238.8 248.6,238.4 248.9,238.2 249.2,239.5 249.5,236.6 249.8,240.3 250.1,236.5 250.4,239.0 250.7,241.1 251.0,241.0 251.3,239.3 251.6,238.9 251.9,241.2 252.2,237.0 252.5,240.6 252.8,239.6 253.1,240.2 253.4,244.0 253.7,242.8 254.0,242.5 254.3,239.4 254.6,241.6 254.9,241.1 255.2,241.2 255.5,242.5 255.8,239.1 256.1,241.4 256.4,241.6 256.7,240.5 257.0,244.4 257.3,240.6 257.6,242.6 257.9,241.3 258.2,238.3 258.5,239.1 258.8,240.2 259.1,242.3 259.4,241.9 259.7,241.5 260.0,242.8 260.3,238.7 260.6,242.1 260.9,240.5 261.2,242.2 261.5,242.4 261.8,244.0 262.1,241.6 262.4,241.2 262.7,238.9 263.0,240.3 263.3,237.6 263.6,241.5 263.9,238.8 264.2,239.5 264.5,238.9 264.8,239.5 265.1,241.0 265.4,240.6 265.7,241.1 266.0,238.8 266.3,242.5 266.6,239.9 266.9,242.1 267.2,243.4 267.5,237.5 267.8,239.1 268.1,240.9 268.4,242.4 268.7,239.8 269.0,241.1 269.3,240.0 269.6,241.8 269.9,240.4 270.2,242.1 270.5,237.9 270.8,238.9 271.1,243.7 271.4,241.0 271.7,239.8 272.0,243.3 272.3,241.9 272.6,242.8 272.9,239.6 273.2,241.3 273.5,241.2 273.8,237.7 274.1,241.1 274.4,240.3 274.7,244.7 275.0,242.7 275.3,240.5 275.6,240.2 275.9,241.3 276.2,243.1 276.5,239.7 276.8,238.4 277.1,240.0 277.4,238.6 277.7,238.8 278.0,236.9 278.3,234.6 278.6,233.6 278.9,238.4 279.2,235.7 279.5,235.8 279.8,236.4 280.1,233.4 280.4,235.6 280.7,232.1 281.0,235.2 281.3,235.1 281.6,239.1 281.9,237.8 282.2,238.5 282.5,238.9 282.8,240.0 283.1,239.0 283.4,240.1 283.7,240.3 284.0,243.7 284.3,240.3 284.6,238.7 284.9,242.1 285.2,244.0 285.5,238.9 285.8,244.1 286.1,241.1 286.4,242.2 286.7,239.1 287.0,240.6 287.3,239.2 287.6,239.6 287.9,238.7 288.2,243.2 288.5,239.9 288.8,242.6 289.1,241.4 289.4,240.3 289.7,241.9 290.0,242.1 290.3,241.1 290.6,241.9 290.9,240.8 291.2,239.7 291.5,239.2 291.8,239.7 292.1,240.8 292.4,242.4 292.7,242.1 293.0,240.9 293.3,241.8 293.6,240.7 293.9,241.5 294.2,239.6 294.5,239.8 294.8,238.7 295.1,239.0 295.4,240.7 295.7,235.1 296.0,236.4 296.3,236.1 296.6,238.7 296.9,240.5 297.2,238.2 297.5,235.7 297.8,241.6 298.1,242.5 298.4,238.9 298.7,241.9 299.0,241.7 299.3,235.6 299.6,242.4 299.9,241.8 300.2,241.3 300.5,239.1 300.8,239.0 301.1,239.6 301.4,242.5 301.7,241.2 302.0,244.4 302.3,242.5 302.6,239.7 302.9,244.8 303.2,242.8 303.5,241.0 303.8,241.1 304.1,238.4 304.4,241.6 304.7,237.4 305.0,240.5 305.3,244.1 305.6,243.6 305.9,241.3 306.2,240.5 306.5,243.5 306.8,242.6 307.1,242.8 307.4,243.3 307.7,240.7 308.0,244.4 308.3,240.8 308.6,246.1 308.9,241.9 309.2,242.2 309.5,241.9 309.8,244.1 310.1,243.8 310.4,242.3 310.7,242.1 311.0,242.0 311.3,242.0 311.6,239.6 311.9,240.0 312.2,239.1 312.5,243.0 312.8,242.7 313.1,242.5 313.4,242.7 313.7,242.0 314.0,240.3 314.3,239.7 314.6,239.2 314.9,244.5 315.2,243.6 315.5,240.4 315.8,242.0 316.1,243.1 316.4,245.6 316.7,241.4 317.0,242.7 317.3,244.0 317.6,239.5 317.9,240.8 318.2,241.9 318.5,240.1 318.8,244.7 319.1,243.6 319.4,242.1 319.7,240.7 320.0,242.8 320.3,241.1 320.6,239.9 320.9,240.8 321.2,239.3 321.5,241.2 321.8,243.6 322.1,245.0 322.4,246.0 322.7,247.9 323.0,243.8 323.3,242.8 323.6,245.1 323.9,243.0 324.2,240.9 324.5,242.7 324.8,242.5 325.1,242.6 325.4,241.7 325.7,241.8 326.0,243.3 326.3,245.1 326.6,242.6 326.9,241.7 327.2,242.4 327.5,239.9 327.8,241.6 328.1,241.1 328.4,243.3 328.7,242.6 329.0,243.7 329.3,245.6 329.6,241.8 329.9,240.6 330.2,243.0 330.5,242.5 330.8,243.0 331.1,242.5 331.4,244.4 331.7,244.6 332.0,241.8"/>
<polyline fill="none" stroke="#ff00ff" stroke-width="1.0" stroke-linejoin="round" points="376.0,108.0 376.3,106.9 376.6,108.7 376.9,105.8 377.2,108.7 377.5,108.7 377.8,108.7 378.1,107.8 378.4,111.0 378.7,112.5 379.0,108.8 379.3,111.3 379.6,111.5 379.9,114.0 380.2,110.2 380.5,109.5 380.8,110.9 381.1,113.1 381.4,109.0 381.7,109.9 382.0,112.4 382.3,106.6 382.6,105.9 382.9,110.4 383.2,110.9 383.5,108.7 383.8,110.8 384.1,109.9 384.4,110.7 384.7,110.2 385.0,110.4 385.3,109.6 385.6,110.9 385.9,110.9 386.2,113.7 386.5,112.0 386.8,108.6 387.1,111.5 387.4,112.9 387.7,110.8 388.0,112.7 388.3,111.5 388.6,112.6 388.9,111.0 389.2,113.2 389.5,110.3 389.8,114.2 390.1,109.6 390.4,108.6 390.7,112.5 391.0,109.7 391.3,110.5 391.6,111.6 391.9,111.2 392.2,110.3 392.5,113.1 392.8,113.5 393.1,114.2 393.4,116.4 393.7,112.7 394.0,114.0 394.3,114.6 394.6,112.9 394.9,111.4 395.2,112.6 395.5,115.1 395.8,112.9 396.1,114.4 396.4,112.9 396.7,113.7 397.0,113.5 397.3,113.3 397.6,114.7 397.9,114.4 398.2,116.0 398.5,110.3 398.8,114.9 399.1,115.1 399.4,114.5 399.7,111.8 400.0,111.4 400.3,111.9 400.6,112.8 400.9,112.9 401.2,114.0 401.5,114.8 401.8,112.0 402.1,112.1 402.4,112.4 402.7,112.4 403.0,114.1 403.3,114.4 403.6,117.0 403.9,114.2 404.2,113.7 404.5,115.3 404.8,112.5 405.1,113.8 405.4,114.7 405.7,115.6 406.0,115.6 406.3,114.3 406.6,112.9 406.9,114.4 407.2,114.1 407.5,116.3 407.8,114.8 408.1,115.7 408.4,112.7 408.7,117.1 409.0,114.9 409.3,114.5 409.6,114.8 409.9,115.5 410.2,118.3 410.5,117.7 410.8,115.1 411.1,116.0 411.4,115.3 411.7,113.2 412.0,114.1 412.3,113.1 412.6,114.3 412.9,111.5 413.2,114.3 413.5,113.8 413.8,113.4 414.1,113.7 414.4,115.4 414.7,113.4 415.0,114.1 415.3,115.4 415.6,115.7 415.9,115.6 416.2,113.4 416.5,113.5 416.8,113.9 417.1,115.3 417.4,114.4 417.7,114.0 418.0,114.8 418.3,113.8 418.6,116.1 418.9,115.8 419.2,112.5 419.5,115.7 419.8,111.0 420.1,117.7 420.4,115.9 420.7,115.1 421.0,111.4 421.3,116.8 421.6,112.9 421.9,113.2 422.2,114.6 422.5,112.9 422.8,113.1 423.1,115.2 423.4,114.1 423.7,116.2 424.0,115.1 424.3,115.9 424.6,112.2 424.9,115.5 425.2,114.3 425.5,115.7 425.8,112.0 426.1,115.1 426.4,114.1 426.7,113.9 427.0,111.4 427.3,112.9 427.6,113.6 427.9,111.6 428.2,111.4 428.5,111.5 428.8,114.9 429.1,113.6 429.4,115.4 429.7,113.7 430.0,113.2 430.3,113.4 430.6,113.0 430.9,115.5 431.2,114.0 431.5,113.0 431.8,110.9 432.1,113.9 432.4,112.5 432.7,112.8 433.0,115.4 433.3,112.4 433.6,114.5 433.9,115.6 434.2,116.6 434.5,114.5 434.8,115.9 435.1,115.2 435.4,112.3 435.7,110.2 436.0,110.5 436.3,114.4 436.6,113.2 436.9,110.7 437.2,112.1 437.5,113.2 437.8,112.9 438.1,112.6 438.4,115.1 438.7,111.2 439.0,112.4 439.3,110.8 439.6,110.8 439.9,110.1 440.2,112.4 440.5,112.4 440.8,114.0 441.1,113.6 441.4,112.4 441.7,116.9 442.0,114.1 442.3,115.1 442.6,116.8 442.9,112.5 443.2,115.4 443.5,115.7 443.8,113.0 444.1,109.2 444.4,113.7 444.7,112.0 445.0,111.5 445.3,113.8 445.6,110.1 445.9,112.9 446.2,110.9 446.5,112.1 446.8,109.7 447.1,110.6 447.4,110.3 447.7,110.8 448.0,112.3 448.3,111.5 448.6,112.3 448.9,114.2 449.2,111.5 449.5,108.8 449.8,111.1 450.1,111.6 450.4,113.2 450.7,112.7 451.0,112.5 451.3,111.2 451.6,113.0 451.9,110.3 452.2,114.7 452.5,113.3 452.8,114.0 453.1,112.5 453.4,112.6 453.7,111.2 454.0,112.9 454.3,109.6 454.6,112.9 454.9,111.9 455.2,115.4 455.5,111.3 455.8,111.3 456.1,111.9 456.4,110.3 456.7,110.3 457.0,109.4 457.3,110.2 457.6,111.2 457.9,111.7 458.2,109.9 458.5,111.2 458.8,112.4 459.1,113.1 459.4,110.9 459.7,112.1 460.0,111.8 460.3,111.6 460.6,109.3 460.9,109.2 461.2,107.6 461.5,109.5 461.8,110.6 462.1,108.7 462.4,111.3 462.7,111.7 463.0,109.1 463.3,111.2 463.6,107.9 463.9,108.6 464.2,110.1 464.5,112.0 464.8,111.7 465.1,111.1 465.4,115.1 465.7,113.0 466.0,112.7 466.3,112.4 466.6,111.2 466.9,111.5 467.2,110.5 467.5,109.0 467.8,113.9 468.1,110.2 468.4,109.2 468.7,110.7 469.0,108.9 469.3,114.0 469.6,110.8 469.9,111.4 470.2,111.3 470.5,110.7 470.8,108.9 471.1,105.0 471.4,104.6 471.7,103.4 472.0,102.5 472.3,99.7 472.6,99.4 472.9,96.8 473.2,93.2 473.5,87.2 473.8,87.3 474.1,85.3 474.4,82.3 474.7,79.0 475.0,81.8 475.3,84.8 475.6,80.4 475.9,87.2 476.2,85.6 476.5,90.3 476.8,96.2 477.1,96.3 477.4,97.8 477.7,98.7 478.0,102.3 478.3,107.1 478.6,107.1 478.9,105.8 479.2,106.1 479.5,107.6 479.8,112.2 480.1,108.9 480.4,111.1 480.7,109.4 481.0,108.1 481.3,111.6 481.6,110.5 481.9,108.8 482.2,109.8 482.5,108.5 482.8,109.7 483.1,108.8 483.4,114.5 483.7,111.6 484.0,112.6 484.3,109.9 484.6,111.4 484.9,110.5 485.2,111.8 485.5,111.8 485.8,111.7 486.1,110.8 486.4,110.4 486.7,111.3 487.0,112.4 487.3,112.5 487.6,111.0 487.9,113.6 488.2,111.7 488.5,108.8 488.8,110.2 489.1,109.6 489.4,112.0 489.7,113.3 490.0,110.8 490.3,112.0 490.6,110.4 490.9,111.8 491.2,112.4 491.5,110.3 491.8,111.2 492.1,110.2 492.4,109.8 492.7,106.2 493.0,110.0 493.3,109.1 493.6,108.7 493.9,107.8 494.2,107.0 494.5,107.9 494.8,109.1 495.1,112.3 495.4,110.4 495.7,112.1 496.0,109.3 496.3,106.9 496.6,110.1 496.9,106.1 497.2,99.1 497.5,96.9 497.8,93.6 498.1,88.8 498.4,81.2 498.7,75.8 499.0,67.0 499.3,67.6 499.6,67.2 499.9,69.2 500.2,64.6 500.5,69.6 500.8,73.7 501.1,82.6 501.4,81.4 501.7,87.7 502.0,97.5 502.3,98.8 502.6,97.1 502.9,102.1 503.2,106.8 503.5,107.9 503.8,109.1 504.1,109.8 504.4,112.7 504.7,113.1 505.0,114.3 505.3,112.6 505.6,111.1 505.9,113.5 506.2,110.9 506.5,112.6 506.8,111.3 507.1,111.7 507.4,111.9 507.7,112.6 508.0,115.3 508.3,116.7 508.6,117.6 508.9,117.1 509.2,114.7 509.5,117.6 509.8,114.9 510.1,116.1 510.4,111.8 510.7,115.6 511.0,112.1 511.3,114.6 511.6,112.1 511.9,115.1 512.2,113.1 512.5,111.3 512.8,112.5 513.1,113.7 513.4,114.5 513.7,111.6 514.0,112.8 514.3,112.9 514.6,113.5 514.9,114.8 515.2,113.5 515.5,112.8 515.8,115.3 516.1,114.5 516.4,116.9 516.7,114.2 517.0,115.7 517.3,113.9 517.6,115.6 517.9,115.5 518.2,115.9 518.5,113.7 518.8,114.9 519.1,113.1 519.4,113.0 519.7,114.9 520.0,117.3 520.3,113.3 520.6,114.7 520.9,114.0 521.2,116.2 521.5,115.4 521.8,116.0 522.1,115.1 522.4,118.0 522.7,116.9 523.0,112.7 523.3,115.2 523.6,114.9 523.9,112.0 524.2,113.4 524.5,114.8 524.8,113.7 525.1,115.6 525.4,113.5 525.7,116.8 526.0,116.9 526.3,117.4 526.6,115.8 526.9,116.4 527.2,114.8 527.5,118.6 527.8,115.7 528.1,117.2 528.4,112.7 528.7,115.7 529.0,112.0 529.3,112.4 529.6,111.0 529.9,113.5 530.2,112.6 530.5,113.9 530.8,114.7 531.1,112.8 531.4,113.9 531.7,114.8 532.0,114.0 532.3,113.5 532.6,115.7 532.9,116.2 533.2,117.7 533.5,117.8 533.8,115.5 534.1,117.4 534.4,116.7 534.7,114.1 535.0,115.0 535.3,114.0 535.6,114.2 535.9,116.6 536.2,114.4 536.5,113.8 536.8,115.1 537.1,115.1 537.4,115.5 537.7,113.1 538.0,113.4 538.3,115.1 538.6,113.5 538.9,117.6 539.2,113.1 539.5,115.2 539.8,113.9 540.1,115.2 540.4,116.8 540.7,115.8 541.0,114.9 541.3,114.7 541.6,110.2 541.9,113.6 542.2,111.1 542.5,112.5 542.8,113.1 543.1,114.0 543.4,115.3 543.7,113.5 544.0,116.6 544.3,114.3 544.6,116.1 544.9,115.9 545.2,116.2 545.5,114.5 545.8,118.5 546.1,114.3 546.4,116.3 546.7,115.3 547.0,114.4 547.3,115.3 547.6,113.7 547.9,114.9 548.2,115.5 548.5,115.0 548.8,116.0 549.1,113.4 549.4,112.0 549.7,114.2 550.0,114.4 550.3,117.6 550.6,113.1 550.9,114.4 551.2,114.7 551.5,116.0 551.8,112.8 552.1,113.7 552.4,112.6 552.7,111.7 553.0,111.5 553.3,111.7 553.6,115.0 553.9,114.4 554.2,113.6 554.5,113.8 554.8,113.3 555.1,115.0 555.4,115.4 555.7,115.7 556.0,115.6 556.3,111.8 556.6,114.3 556.9,115.1 557.2,111.1 557.5,111.3 557.8,112.0 558.1,114.1 558.4,113.6 558.7,111.7 559.0,113.4 559.3,113.7 559.6,112.5 559.9,114.4 560.2,111.8 560.5,109.1 560.8,110.0 561.1,111.3 561.4,111.4 561.7,113.8 562.0,114.1 562.3,116.1 562.6,115.9 562.9,119.3 563.2,113.6 563.5,114.3 563.8,114.9 564.1,113.2 564.4,114.6 564.7,114.0 565.0,111.3 565.3,115.4 565.6,113.9 565.9,110.7 566.2,112.6 566.5,112.6 566.8,113.3 567.1,112.7 567.4,110.6 567.7,115.9 568.0,112.7 568.3,115.0 568.6,114.0 568.9,114.9 569.2,115.0 569.5,117.0 569.8,112.8 570.1,115.6 570.4,114.1 570.7,112.7 571.0,113.4 571.3,113.1 571.6,113.9 571.9,115.0 572.2,111.6 572.5,114.4 572.8,112.0 573.1,110.6 573.4,113.5 573.7,110.4 574.0,109.4 574.3,112.5 574.6,112.0 574.9,111.0 575.2,113.2 575.5,113.7 575.8,111.4 576.1,115.4 576.4,111.4 576.7,111.3 577.0,105.6 577.3,108.0 577.6,103.7 577.9,102.0 578.2,94.5 578.5,92.1 578.8,80.5 579.1,50.0 579.4,2.5 579.7,5.0 580.0,61.2 580.3,78.5 580.6,93.7 580.9,99.4 581.2,104.9 581.5,103.9 581.8,107.1 582.1,108.5 582.4,110.5 582.7,109.8 583.0,113.7 583.3,114.1 583.6,111.8 583.9,116.4 584.2,113.3 584.5,114.2 584.8,117.1 585.1,116.0 585.4,116.0 585.7,115.8 586.0,114.8 586.3,113.7 586.6,112.9 586.9,114.9 587.2,115.3 587.5,115.4 587.8,115.1 588.1,116.6 588.4,115.5 588.7,113.7 589.0,116.7 589.3,116.0 589.6,115.8 589.9,113.2 590.2,114.4 590.5,115.7 590.8,114.8 591.1,114.2 591.4,116.7 591.7,116.9 592.0,119.0 592.3,116.5 592.6,118.9 592.9,118.2 593.2,120.5 593.5,116.2 593.8,115.4 594.1,117.1 594.4,113.3 594.7,114.9 595.0,114.9 595.3,115.6 595.6,113.8 595.9,116.9 596.2,116.0 596.5,116.1 596.8,115.7 597.1,116.4 597.4,117.7 597.7,116.5 598.0,114.9 598.3,115.4 598.6,117.2 598.9,116.7 599.2,116.8 599.5,115.6 599.8,116.7 600.1,119.4 600.4,116.5 600.7,119.3 601.0,118.8 601.3,116.9 601.6,115.1 601.9,117.5 602.2,116.4 602.5,116.5 602.8,114.8 603.1,118.7 603.4,118.1 603.7,118.2 604.0,118.5 604.3,117.3 604.6,117.1 604.9,117.4 605.2,115.1 605.5,111.9 605.8,116.4 606.1,115.8 606.4,115.6 606.7,117.9 607.0,114.2 607.3,113.4 607.6,118.8 607.9,117.4 608.2,114.8 608.5,116.0 608.8,117.4 609.1,114.3 609.4,117.4 609.7,120.1 610.0,119.4 610.3,117.4 610.6,118.3 610.9,116.4 611.2,118.5 611.5,117.4 611.8,114.6 612.1,113.9 612.4,118.1 612.7,115.5 613.0,114.1 613.3,115.1 613.6,117.4 613.9,117.4 614.2,115.5 614.5,116.4 614.8,117.5 615.1,116.1 615.4,114.4 615.7,114.9 616.0,117.2 616.3,116.1 616.6,115.8 616.9,117.2 617.2,120.1 617.5,118.5 617.8,117.2 618.1,119.4 618.4,115.4 618.7,116.4 619.0,114.8 619.3,117.4 619.6,116.0 619.9,114.4 620.2,116.0 620.5,119.5 620.8,118.7 621.1,117.2 621.4,118.4 621.7,115.4 622.0,116.5 622.3,115.1 622.6,115.6 622.9,115.8 623.2,117.0 623.5,117.6 623.8,116.9 624.1,119.9 624.4,114.1 624.7,113.9 625.0,114.2 625.3,112.2 625.6,112.1 625.9,113.2 626.2,111.2 626.5,113.0 626.8,114.4 627.1,109.8 627.4,109.1 627.7,112.8 628.0,111.2 628.3,113.8 628.6,113.7 628.9,115.2 629.2,116.5 629.5,116.4 629.8,115.0 630.1,114.0 630.4,112.4 630.7,112.2 631.0,114.7 631.3,116.8 631.6,115.6 631.9,116.2 632.2,115.3 632.5,115.7 632.8,116.0 633.1,120.1 633.4,115.1 633.7,117.9 634.0,115.0 634.3,117.0 634.6,116.2 634.9,117.4 635.2,118.7 635.5,115.7 635.8,116.4 636.1,119.8 636.4,117.6 636.7,119.7 637.0,117.7 637.3,117.1 637.6,118.0 637.9,116.5 638.2,117.8 638.5,113.6 638.8,116.3 639.1,116.2 639.4,114.7 639.7,114.8 640.0,116.5 640.3,114.2 640.6,111.7 640.9,111.7 641.2,115.6 641.5,111.9 641.8,115.1 642.1,115.9 642.4,113.7 642.7,115.8 643.0,115.0 643.3,115.1 643.6,115.9 643.9,118.0 644.2,115.2 644.5,117.6 644.8,117.8 645.1,118.0 645.4,114.3 645.7,114.8 646.0,115.6 646.3,116.3 646.6,116.5 646.9,115.3 647.2,117.9 647.5,117.4 647.8,116.0 648.1,115.0 648.4,117.1 648.7,117.0 649.0,117.5 649.3,116.9 649.6,117.3 649.9,119.4 650.2,115.6 650.5,113.9 650.8,118.6 651.1,118.6 651.4,117.1 651.7,116.9 652.0,120.5 652.3,117.2 652.6,116.2 652.9,117.7 653.2,120.1 653.5,118.3 653.8,118.4 654.1,119.6 654.4,117.6 654.7,118.6 655.0,117.4 655.3,115.2 655.6,116.7 655.9,115.4 656.2,118.9 656.5,116.8 656.8,117.3 657.1,114.1 657.4,118.2 657.7,116.3 658.0,119.3 658.3,117.0 658.6,118.0 658.9,115.5 659.2,116.6 659.5,118.1 659.8,117.0 660.1,121.0 660.4,118.7 660.7,119.8 661.0,119.5 661.3,118.8 661.6,118.9 661.9,117.2 662.2,118.2 662.5,119.4 662.8,117.4 663.1,116.9 663.4,116.3 663.7,117.2 664.0,118.4 664.3,117.0 664.6,114.4 664.9,116.5 665.2,116.8 665.5,117.5 665.8,117.3 666.1,119.4 666.4,116.8 666.7,118.1 667.0,120.7 667.3,118.5 667.6,120.1 667.9,119.1 668.2,115.7 668.5,118.9 668.8,119.8 669.1,118.5 669.4,116.4 669.7,119.5 670.0,117.4 670.3,119.3 670.6,119.1 670.9,116.9 671.2,114.8 671.5,117.7 671.8,116.8 672.1,115.9 672.4,116.0 672.7,118.1 673.0,117.3 673.3,117.4 673.6,117.1 673.9,118.9 674.2,118.6 674.5,117.8 674.8,115.8 675.1,118.1 675.4,117.4 675.7,117.4 676.0,119.2 676.3,119.0 676.6,119.1 676.9,119.1"/>
<polyline fill="none" stroke="#ff00ff" stroke-width="1.1" stroke-linejoin="round" points="578.0,108.8 578.0,108.2 578.1,107.4 578.2,106.6 578.3,105.6 578.3,104.5 578.4,103.1 578.5,101.4 578.6,99.4 578.7,96.8 578.7,93.6 578.8,89.4 578.9,84.1 579.0,77.1 579.0,68.0 579.1,56.3 579.2,41.6 579.3,24.2 579.3,5.9 579.4,2.5 579.5,2.5 579.6,2.5 579.7,5.9 579.7,24.2 579.8,41.7 579.9,56.4 580.0,68.1 580.0,77.2 580.1,84.2 580.2,89.6 580.3,93.8 580.3,97.0 580.4,99.6 580.5,101.7 580.6,103.4 580.7,104.8 580.7,106.0 580.8,107.0 580.9,107.8 581.0,108.6 581.0,109.2"/>
<polyline fill="none" stroke="#0000ff" stroke-width="1.0" stroke-linejoin="round" points="376.0,147.4 376.3,147.1 376.6,148.9 376.9,150.7 377.2,148.4 377.5,147.3 377.8,148.1 378.1,146.4 378.4,146.4 378.7,145.4 379.0,149.1 379.3,146.4 379.6,146.8 379.9,147.6 380.2,148.7 380.5,147.9 380.8,149.1 381.1,149.0 381.4,151.9 381.7,147.7 382.0,150.0 382.3,148.4 382.6,148.7 382.9,152.2 383.2,150.6 383.5,148.8 383.8,149.4 384.1,148.0 384.4,149.8 384.7,148.0 385.0,149.2 385.3,148.5 385.6,148.6 385.9,149.3 386.2,148.5 386.5,149.7 386.8,151.2 387.1,149.3 387.4,149.8 387.7,150.8 388.0,148.9 388.3,151.5 388.6,151.1 388.9,146.8 389.2,148.7 389.5,148.1 389.8,151.2 390.1,152.1 390.4,149.2 390.7,149.9 391.0,150.4 391.3,149.4 391.6,151.3 391.9,152.0 392.2,151.6 392.5,152.6 392.8,152.4 393.1,151.2 393.4,151.6 393.7,151.6 394.0,153.1 394.3,152.6 394.6,153.0 394.9,150.6 395.2,151.0 395.5,151.6 395.8,152.9 396.1,152.0 396.4,151.7 396.7,149.9 397.0,152.5 397.3,152.5 397.6,150.5 397.9,154.5 398.2,149.5 398.5,151.7 398.8,150.5 399.1,150.5 399.4,149.4 399.7,149.8 400.0,152.0 400.3,151.5 400.6,151.6 400.9,152.8 401.2,153.2 401.5,152.2 401.8,151.8 402.1,156.9 402.4,152.1 402.7,152.5 403.0,152.6 403.3,150.2 403.6,149.2 403.9,152.7 404.2,153.7 404.5,152.9 404.8,153.2 405.1,153.4 405.4,154.7 405.7,153.7 406.0,151.3 406.3,153.9 406.6,153.2 406.9,152.3 407.2,152.8 407.5,153.5 407.8,152.1 408.1,151.9 408.4,149.1 408.7,152.8 409.0,152.9 409.3,155.0 409.6,154.8 409.9,153.6 410.2,154.1 410.5,152.2 410.8,151.6 411.1,150.5 411.4,151.9 411.7,152.6 412.0,153.5 412.3,150.7 412.6,152.2 412.9,153.8 413.2,148.9 413.5,149.9 413.8,150.6 414.1,153.0 414.4,154.6 414.7,154.2 415.0,152.5 415.3,151.1 415.6,152.9 415.9,153.1 416.2,153.4 416.5,151.8 416.8,155.8 417.1,153.8 417.4,155.7 417.7,154.5 418.0,152.8 418.3,154.1 418.6,153.9 418.9,153.1 419.2,153.9 419.5,152.3 419.8,155.4 420.1,153.2 420.4,150.1 420.7,148.8 421.0,153.5 421.3,151.5 421.6,151.7 421.9,151.3 422.2,151.3 422.5,151.0 422.8,157.1 423.1,156.3 423.4,153.2 423.7,156.5 424.0,151.6 424.3,154.7 424.6,155.4 424.9,152.6 425.2,153.2 425.5,152.7 425.8,154.0 426.1,155.3 426.4,154.5 426.7,152.6 427.0,153.7 427.3,149.7 427.6,155.1 427.9,151.7 428.2,149.8 428.5,151.7 428.8,151.4 429.1,152.8 429.4,152.3 429.7,149.1 430.0,154.8 430.3,156.3 430.6,152.1 430.9,155.7 431.2,154.5 431.5,155.1 431.8,155.8 432.1,151.4 432.4,153.6 432.7,151.5 433.0,156.3 433.3,152.8 433.6,151.1 433.9,154.6 434.2,153.8 434.5,153.0 434.8,152.9 435.1,153.4 435.4,154.7 435.7,152.3 436.0,151.5 436.3,151.6 436.6,152.3 436.9,152.7 437.2,151.0 437.5,152.9 437.8,151.1 438.1,152.7 438.4,153.7 438.7,153.5 439.0,155.3 439.3,156.0 439.6,155.7 439.9,156.5 440.2,155.0 440.5,156.6 440.8,154.9 441.1,155.9 441.4,155.7 441.7,153.0 442.0,154.1 442.3,154.9 442.6,155.4 442.9,154.6 443.2,153.3 443.5,151.3 443.8,153.6 444.1,151.1 444.4,150.4 444.7,151.4 445.0,151.1 445.3,150.3 445.6,150.3 445.9,152.6 446.2,153.5 446.5,152.1 446.8,152.2 447.1,149.8 447.4,154.1 447.7,150.7 448.0,153.7 448.3,152.6 448.6,153.3 448.9,154.1 449.2,152.5 449.5,158.3 449.8,153.1 450.1,156.5 450.4,154.2 450.7,154.8 451.0,156.4 451.3,152.3 451.6,155.3 451.9,156.0 452.2,155.2 452.5,154.9 452.8,152.7 453.1,151.7 453.4,151.9 453.7,151.9 454.0,154.0 454.3,153.9 454.6,155.8 454.9,153.3 455.2,153.5 455.5,153.4 455.8,151.2 456.1,153.8 456.4,149.9 456.7,152.1 457.0,156.8 457.3,152.4 457.6,153.8 457.9,152.9 458.2,152.7 458.5,152.2 458.8,151.9 459.1,154.9 459.4,148.9 459.7,150.8 460.0,155.7 460.3,155.4 460.6,152.9 460.9,152.0 461.2,153.4 461.5,156.6 461.8,152.1 462.1,149.8 462.4,151.9 462.7,150.7 463.0,154.7 463.3,152.9 463.6,154.2 463.9,153.5 464.2,156.3 464.5,154.8 464.8,153.4 465.1,151.6 465.4,152.5 465.7,154.0 466.0,152.4 466.3,156.3 466.6,151.5 466.9,150.5 467.2,152.9 467.5,150.7 467.8,151.9 468.1,151.1 468.4,149.3 468.7,152.2 469.0,150.6 469.3,151.2 469.6,147.8 469.9,145.4 470.2,144.6 470.5,145.6 470.8,144.7 471.1,143.9 471.4,142.5 471.7,137.4 472.0,138.3 472.3,134.7 472.6,132.9 472.9,137.1 473.2,131.4 473.5,125.4 473.8,129.0 474.1,125.6 474.4,122.5 474.7,123.2 475.0,119.4 475.3,120.6 475.6,121.4 475.9,125.9 476.2,124.7 476.5,127.3 476.8,131.4 477.1,131.2 477.4,135.6 477.7,140.0 478.0,136.2 478.3,142.2 478.6,140.6 478.9,142.8 479.2,146.8 479.5,149.5 479.8,147.2 480.1,148.0 480.4,148.0 480.7,148.6 481.0,149.3 481.3,148.6 481.6,149.0 481.9,150.8 482.2,149.9 482.5,152.8 482.8,150.2 483.1,151.1 483.4,154.2 483.7,153.6 484.0,151.2 484.3,153.9 484.6,152.7 484.9,151.4 485.2,152.9 485.5,153.4 485.8,154.6 486.1,151.1 486.4,154.1 486.7,153.4 487.0,151.9 487.3,152.1 487.6,151.3 487.9,150.1 488.2,150.8 488.5,152.7 488.8,148.7 489.1,150.7 489.4,148.1 489.7,151.0 490.0,152.0 490.3,151.5 490.6,152.0 490.9,151.3 491.2,153.3 491.5,151.1 491.8,154.0 492.1,153.0 492.4,151.6 492.7,154.5 493.0,151.6 493.3,153.9 493.6,152.3 493.9,150.8 494.2,152.1 494.5,150.5 494.8,149.2 495.1,147.3 495.4,147.4 495.7,147.0 496.0,145.9 496.3,142.8 496.6,138.6 496.9,140.5 497.2,138.6 497.5,136.7 497.8,131.1 498.1,128.4 498.4,126.2 498.7,118.4 499.0,113.0 499.3,113.3 499.6,110.1 499.9,110.5 500.2,116.8 500.5,118.2 500.8,123.7 501.1,123.5 501.4,130.9 501.7,135.9 502.0,136.2 502.3,141.3 502.6,143.8 502.9,141.2 503.2,148.4 503.5,145.9 503.8,148.5 504.1,151.1 504.4,146.8 504.7,150.8 505.0,150.1 505.3,152.3 505.6,151.6 505.9,155.0 506.2,152.1 506.5,154.3 506.8,154.9 507.1,155.0 507.4,154.0 507.7,153.8 508.0,155.8 508.3,154.2 508.6,153.8 508.9,152.1 509.2,153.5 509.5,153.6 509.8,153.0 510.1,154.5 510.4,150.7 510.7,157.0 511.0,153.4 511.3,151.7 511.6,152.0 511.9,155.7 512.2,154.9 512.5,153.6 512.8,153.8 513.1,154.4 513.4,154.0 513.7,155.9 514.0,154.8 514.3,154.7 514.6,152.6 514.9,156.3 515.2,153.3 515.5,152.1 515.8,155.1 516.1,154.3 516.4,150.6 516.7,151.8 517.0,153.8 517.3,153.5 517.6,155.7 517.9,159.1 518.2,159.6 518.5,155.8 518.8,157.1 519.1,157.5 519.4,155.1 519.7,152.1 520.0,156.0 520.3,153.4 520.6,155.2 520.9,154.5 521.2,152.3 521.5,156.4 521.8,154.9 522.1,155.4 522.4,154.9 522.7,156.2 523.0,156.6 523.3,154.8 523.6,155.6 523.9,154.3 524.2,152.8 524.5,154.2 524.8,155.4 525.1,156.1 525.4,155.9 525.7,153.7 526.0,153.7 526.3,155.0 526.6,155.5 526.9,154.6 527.2,152.8 527.5,152.1 527.8,156.1 528.1,155.9 528.4,153.3 528.7,156.8 529.0,155.0 529.3,155.5 529.6,157.6 529.9,155.6 530.2,154.9 530.5,154.0 530.8,157.1 531.1,156.4 531.4,159.0 531.7,156.0 532.0,154.8 532.3,156.9 532.6,153.3 532.9,154.3 533.2,154.8 533.5,153.4 533.8,156.5 534.1,155.0 534.4,156.3 534.7,155.9 535.0,155.1 535.3,158.0 535.6,157.7 535.9,155.6 536.2,155.2 536.5,153.1 536.8,153.8 537.1,153.2 537.4,153.9 537.7,152.5 538.0,154.1 538.3,153.2 538.6,151.8 538.9,153.4 539.2,152.6 539.5,151.3 539.8,152.1 540.1,154.4 540.4,149.4 540.7,149.8 541.0,151.8 541.3,156.1 541.6,152.2 541.9,154.4 542.2,152.8 542.5,155.1 542.8,156.4 543.1,155.1 543.4,156.1 543.7,153.1 544.0,154.5 544.3,152.0 544.6,154.1 544.9,152.8 545.2,153.8 545.5,151.8 545.8,153.8 546.1,153.8 546.4,154.0 546.7,153.1 547.0,152.6 547.3,154.2 547.6,155.7 547.9,154.8 548.2,155.5 548.5,155.5 548.8,153.4 549.1,154.7 549.4,154.3 549.7,154.0 550.0,154.4 550.3,154.4 550.6,157.6 550.9,154.9 551.2,153.7 551.5,156.3 551.8,157.3 552.1,156.5 552.4,154.8 552.7,155.2 553.0,155.1 553.3,154.5 553.6,155.2 553.9,154.8 554.2,154.5 554.5,156.3 554.8,154.5 555.1,156.4 555.4,157.7 555.7,158.2 556.0,156.3 556.3,155.3 556.6,153.5 556.9,155.4 557.2,159.1 557.5,153.6 557.8,153.6 558.1,156.7 558.4,157.2 558.7,154.4 559.0,156.4 559.3,157.1 559.6,154.4 559.9,156.8 560.2,153.1 560.5,155.7 560.8,154.6 561.1,153.9 561.4,152.6 561.7,153.9 562.0,155.3 562.3,155.8 562.6,155.3 562.9,154.5 563.2,155.8 563.5,154.8 563.8,156.1 564.1,157.1 564.4,156.7 564.7,157.5 565.0,159.1 565.3,157.1 565.6,156.1 565.9,151.7 566.2,154.7 566.5,155.6 566.8,153.3 567.1,156.7 567.4,152.3 567.7,157.4 568.0,155.6 568.3,155.4 568.6,156.0 568.9,156.6 569.2,155.3 569.5,154.7 569.8,155.6 570.1,157.2 570.4,156.7 570.7,158.2 571.0,154.9 571.3,155.6 571.6,155.6 571.9,156.2 572.2,156.6 572.5,158.1 572.8,156.4 573.1,156.2 573.4,157.5 573.7,154.4 574.0,153.9 574.3,156.6 574.6,155.1 574.9,155.9 575.2,156.3 575.5,154.2 575.8,154.4 576.1,154.5 576.4,155.9 576.7,155.8 577.0,153.4 577.3,153.3 577.6,151.0 577.9,155.9 578.2,152.5 578.5,153.4 578.8,156.8 579.1,148.2 579.4,136.9 579.7,129.8 580.0,121.4 580.3,134.1 580.6,146.1 580.9,153.2 581.2,157.6 581.5,156.3 581.8,158.0 582.1,156.3 582.4,158.1 582.7,155.8 583.0,156.9 583.3,155.8 583.6,154.4 583.9,156.2 584.2,152.5 584.5,152.8 584.8,154.4 585.1,153.4 585.4,152.4 585.7,154.1 586.0,157.2 586.3,152.4 586.6,153.8 586.9,155.9 587.2,154.2 587.5,155.6 587.8,155.4 588.1,154.8 588.4,157.6 588.7,154.7 589.0,156.1 589.3,157.2 589.6,159.9 589.9,154.8 590.2,157.2 590.5,161.0 590.8,156.6 591.1,158.7 591.4,158.1 591.7,155.7 592.0,157.7 592.3,156.0 592.6,156.8 592.9,153.7 593.2,156.6 593.5,151.7 593.8,154.8 594.1,157.4 594.4,155.8 594.7,154.2 595.0,154.9 595.3,154.2 595.6,159.3 595.9,155.3 596.2,154.3 596.5,154.0 596.8,154.4 597.1,155.6 597.4,153.9 597.7,153.8 598.0,155.5 598.3,155.9 598.6,157.3 598.9,156.7 599.2,156.8 599.5,156.1 599.8,158.9 600.1,157.2 600.4,156.3 600.7,157.4 601.0,156.6 601.3,154.8 601.6,156.5 601.9,161.0 602.2,157.2 602.5,158.8 602.8,153.8 603.1,153.6 603.4,154.9 603.7,158.0 604.0,153.1 604.3,154.6 604.6,156.6 604.9,155.1 605.2,154.6 605.5,155.9 605.8,155.5 606.1,155.0 606.4,155.7 606.7,154.6 607.0,156.0 607.3,157.1 607.6,154.1 607.9,154.5 608.2,154.2 608.5,156.1 608.8,156.4 609.1,157.4 609.4,157.7 609.7,157.9 610.0,157.0 610.3,155.0 610.6,157.1 610.9,154.3 611.2,158.2 611.5,155.6 611.8,156.2 612.1,153.9 612.4,156.7 612.7,157.3 613.0,153.5 613.3,154.9 613.6,155.0 613.9,154.0 614.2,157.2 614.5,158.5 614.8,154.3 615.1,157.7 615.4,155.8 615.7,157.9 616.0,152.9 616.3,155.2 616.6,156.6 616.9,154.2 617.2,156.4 617.5,155.1 617.8,158.6 618.1,157.0 618.4,155.9 618.7,156.1 619.0,156.7 619.3,158.2 619.6,155.7 619.9,155.0 620.2,158.3 620.5,152.2 620.8,153.8 621.1,155.0 621.4,153.0 621.7,154.7 622.0,154.3 622.3,153.6 622.6,157.0 622.9,155.0 623.2,154.3 623.5,157.1 623.8,153.9 624.1,156.1 624.4,157.1 624.7,156.4 625.0,156.3 625.3,155.9 625.6,154.6 625.9,156.2 626.2,157.0 626.5,154.7 626.8,153.5 627.1,155.1 627.4,151.7 627.7,152.1 628.0,150.5 628.3,147.3 628.6,151.9 628.9,149.6 629.2,149.2 629.5,146.3 629.8,148.6 630.1,148.7 630.4,147.9 630.7,152.4 631.0,148.6 631.3,153.0 631.6,150.1 631.9,152.0 632.2,153.2 632.5,156.4 632.8,155.0 633.1,154.6 633.4,155.2 633.7,154.0 634.0,154.0 634.3,153.3 634.6,153.8 634.9,154.1 635.2,151.2 635.5,153.3 635.8,155.9 636.1,154.2 636.4,155.4 636.7,154.3 637.0,154.6 637.3,155.5 637.6,153.6 637.9,155.4 638.2,153.0 638.5,155.8 638.8,152.9 639.1,155.4 639.4,155.9 639.7,152.0 640.0,155.5 640.3,153.3 640.6,154.8 640.9,152.6 641.2,152.5 641.5,151.3 641.8,152.4 642.1,147.6 642.4,150.5 642.7,149.3 643.0,147.3 643.3,147.1 643.6,149.2 643.9,149.6 644.2,151.4 644.5,148.1 644.8,147.1 645.1,150.8 645.4,151.0 645.7,151.4 646.0,153.8 646.3,155.5 646.6,153.1 646.9,149.6 647.2,152.9 647.5,151.8 647.8,152.4 648.1,154.2 648.4,153.3 648.7,153.5 649.0,155.0 649.3,156.2 649.6,155.6 649.9,157.8 650.2,151.8 650.5,153.9 650.8,153.0 651.1,156.0 651.4,153.9 651.7,156.8 652.0,152.5 652.3,154.2 652.6,155.6 652.9,154.9 653.2,154.7 653.5,155.1 653.8,156.4 654.1,150.4 654.4,155.0 654.7,152.5 655.0,151.8 655.3,153.9 655.6,153.4 655.9,155.2 656.2,153.1 656.5,155.7 656.8,153.4 657.1,154.7 657.4,155.5 657.7,153.9 658.0,154.8 658.3,152.7 658.6,155.3 658.9,153.5 659.2,153.0 659.5,152.5 659.8,152.9 660.1,152.9 660.4,155.9 660.7,154.1 661.0,155.5 661.3,153.5 661.6,154.5 661.9,154.9 662.2,153.0 662.5,153.2 662.8,154.3 663.1,154.1 663.4,153.6 663.7,152.5 664.0,150.7 664.3,152.5 664.6,151.9 664.9,153.5 665.2,152.2 665.5,156.2 665.8,155.5 666.1,154.8 666.4,153.8 666.7,155.1 667.0,153.7 667.3,154.4 667.6,153.1 667.9,153.1 668.2,155.2 668.5,156.7 668.8,154.1 669.1,155.8 669.4,156.9 669.7,155.6 670.0,154.9 670.3,157.5 670.6,153.1 670.9,154.2 671.2,152.1 671.5,151.6 671.8,148.5 672.1,152.6 672.4,151.4 672.7,150.7 673.0,154.1 673.3,151.7 673.6,152.3 673.9,152.7 674.2,156.0 674.5,154.4 674.8,153.4 675.1,152.2 675.4,153.9 675.7,155.8 676.0,155.1 676.3,151.8 676.6,153.9 676.9,155.4"/>
<polyline fill="none" stroke="#0000ff" stroke-width="1.1" stroke-linejoin="round" points="577.7,155.1 577.8,155.0 577.9,154.9 578.0,154.8 578.1,154.7 578.2,154.5 578.4,154.3 578.5,154.0 578.6,153.7 578.7,153.1 578.8,152.4 578.9,151.3 579.0,149.6 579.1,147.4 579.2,144.3 579.3,140.4 579.5,135.8 579.6,130.7 579.7,125.9 579.8,122.2 579.9,120.8 580.0,122.2 580.1,125.9 580.2,130.7 580.3,135.8 580.5,140.4 580.6,144.3 580.7,147.4 580.8,149.6 580.9,151.3 581.0,152.4 581.1,153.1 581.2,153.7 581.3,154.0 581.4,154.3 581.5,154.5 581.7,154.7 581.8,154.8 581.9,154.9 582.0,155.0 582.1,155.1"/>
<polyline fill="none" stroke="#ff0000" stroke-width="1.0" stroke-linejoin="round" points="376.0,200.8 376.3,203.1 376.6,199.9 376.9,203.3 377.2,200.2 377.5,200.7 377.8,200.2 378.1,200.8 378.4,202.4 378.7,200.5 379.0,199.7 379.3,197.9 379.6,201.8 379.9,198.9 380.2,197.6 380.5,199.5 380.8,201.5 381.1,201.6 381.4,202.6 381.7,199.2 382.0,199.6 382.3,202.1 382.6,202.5 382.9,199.0 383.2,200.3 383.5,198.7 383.8,199.2 384.1,199.3 384.4,201.1 384.7,199.9 385.0,202.7 385.3,201.1 385.6,200.5 385.9,202.5 386.2,201.3 386.5,200.2 386.8,201.9 387.1,205.1 387.4,202.1 387.7,202.5 388.0,200.5 388.3,200.4 388.6,201.4 388.9,196.9 389.2,196.2 389.5,199.1 389.8,199.2 390.1,202.4 390.4,203.5 390.7,200.4 391.0,200.2 391.3,200.8 391.6,202.3 391.9,199.0 392.2,199.7 392.5,200.7 392.8,200.1 393.1,197.7 393.4,201.6 393.7,198.3 394.0,202.6 394.3,203.2 394.6,198.5 394.9,203.2 395.2,202.1 395.5,199.6 395.8,203.0 396.1,203.5 396.4,201.4 396.7,199.6 397.0,199.2 397.3,200.1 397.6,200.1 397.9,201.9 398.2,200.8 398.5,199.7 398.8,200.5 399.1,199.5 399.4,197.9 399.7,198.4 400.0,199.1 400.3,200.8 400.6,199.5 400.9,203.6 401.2,201.7 401.5,201.0 401.8,202.9 402.1,200.2 402.4,203.1 402.7,202.9 403.0,204.7 403.3,201.5 403.6,201.9 403.9,201.7 404.2,200.9 404.5,202.7 404.8,200.8 405.1,202.7 405.4,201.1 405.7,203.3 406.0,198.1 406.3,201.9 406.6,201.4 406.9,199.9 407.2,199.3 407.5,202.6 407.8,200.1 408.1,200.6 408.4,199.4 408.7,199.1 409.0,201.2 409.3,201.9 409.6,199.0 409.9,199.4 410.2,198.8 410.5,201.3 410.8,199.4 411.1,199.6 411.4,202.1 411.7,200.9 412.0,202.0 412.3,201.8 412.6,203.3 412.9,203.0 413.2,200.3 413.5,202.2 413.8,202.5 414.1,202.7 414.4,202.8 414.7,202.1 415.0,201.8 415.3,205.5 415.6,205.8 415.9,202.5 416.2,204.2 416.5,202.1 416.8,200.5 417.1,199.1 417.4,199.7 417.7,199.6 418.0,199.4 418.3,198.8 418.6,198.3 418.9,202.6 419.2,199.5 419.5,199.3 419.8,201.3 420.1,200.9 420.4,202.5 420.7,199.9 421.0,197.7 421.3,199.9 421.6,198.8 421.9,199.7 422.2,198.5 422.5,200.5 422.8,196.9 423.1,200.8 423.4,196.4 423.7,199.3 424.0,195.3 424.3,197.7 424.6,199.3 424.9,195.7 425.2,194.8 425.5,199.4 425.8,196.6 426.1,195.7 426.4,199.7 426.7,194.7 427.0,196.0 427.3,195.1 427.6,195.3 427.9,193.9 428.2,197.3 428.5,196.3 428.8,195.4 429.1,194.2 429.4,193.8 429.7,196.8 430.0,194.3 430.3,195.4 430.6,196.7 430.9,193.4 431.2,191.1 431.5,192.3 431.8,194.9 432.1,193.7 432.4,195.9 432.7,190.3 433.0,192.6 433.3,193.3 433.6,190.9 433.9,192.2 434.2,194.3 434.5,193.6 434.8,192.3 435.1,193.8 435.4,195.2 435.7,191.9 436.0,194.4 436.3,195.1 436.6,192.6 436.9,194.7 437.2,191.9 437.5,193.7 437.8,192.7 438.1,191.0 438.4,188.0 438.7,188.2 439.0,189.6 439.3,190.5 439.6,191.9 439.9,188.9 440.2,189.7 440.5,192.3 440.8,190.5 441.1,190.8 441.4,193.1 441.7,190.4 442.0,191.9 442.3,192.0 442.6,190.3 442.9,189.3 443.2,189.7 443.5,191.8 443.8,193.4 444.1,193.0 444.4,194.2 444.7,192.8 445.0,189.9 445.3,188.1 445.6,188.6 445.9,188.4 446.2,187.6 446.5,189.9 446.8,188.7 447.1,190.5 447.4,190.0 447.7,187.1 448.0,189.0 448.3,190.9 448.6,190.3 448.9,189.2 449.2,187.9 449.5,188.7 449.8,190.1 450.1,192.7 450.4,192.1 450.7,191.6 451.0,192.3 451.3,192.2 451.6,188.3 451.9,189.1 452.2,190.1 452.5,191.9 452.8,191.8 453.1,189.7 453.4,191.6 453.7,190.4 454.0,190.6 454.3,191.2 454.6,189.9 454.9,189.1 455.2,188.3 455.5,187.5 455.8,190.2 456.1,191.3 456.4,191.6 456.7,190.1 457.0,190.4 457.3,192.1 457.6,190.7 457.9,191.7 458.2,188.7 458.5,188.3 458.8,186.8 459.1,189.8 459.4,186.5 459.7,186.1 460.0,187.6 460.3,190.6 460.6,190.0 460.9,190.7 461.2,190.1 461.5,191.1 461.8,190.8 462.1,188.3 462.4,192.1 462.7,188.7 463.0,191.0 463.3,187.5 463.6,191.2 463.9,188.3 464.2,188.7 464.5,191.5 464.8,192.7 465.1,194.8 465.4,192.5 465.7,188.9 466.0,190.0 466.3,186.7 466.6,186.5 466.9,187.1 467.2,185.6 467.5,187.4 467.8,183.3 468.1,187.8 468.4,186.6 468.7,189.3 469.0,190.2 469.3,185.0 469.6,185.8 469.9,186.6 470.2,182.7 470.5,181.1 470.8,180.5 471.1,180.3 471.4,179.6 471.7,176.4 472.0,175.6 472.3,174.8 472.6,171.2 472.9,165.6 473.2,161.9 473.5,161.9 473.8,159.9 474.1,158.4 474.4,155.2 474.7,152.4 475.0,158.6 475.3,155.0 475.6,159.6 475.9,154.3 476.2,157.1 476.5,158.7 476.8,166.7 477.1,167.2 477.4,168.2 477.7,168.5 478.0,175.9 478.3,175.9 478.6,175.2 478.9,175.3 479.2,181.3 479.5,181.3 479.8,183.2 480.1,184.3 480.4,184.7 480.7,185.7 481.0,188.0 481.3,187.6 481.6,188.0 481.9,189.3 482.2,186.5 482.5,191.4 482.8,191.0 483.1,189.1 483.4,191.0 483.7,192.2 484.0,190.8 484.3,186.5 484.6,187.6 484.9,189.1 485.2,191.5 485.5,189.6 485.8,188.8 486.1,191.0 486.4,190.3 486.7,190.5 487.0,192.1 487.3,188.2 487.6,192.3 487.9,191.4 488.2,189.5 488.5,189.0 488.8,188.2 489.1,190.0 489.4,190.3 489.7,190.3 490.0,191.6 490.3,185.6 490.6,187.9 490.9,187.5 491.2,188.8 491.5,187.0 491.8,185.9 492.1,187.7 492.4,188.2 492.7,189.9 493.0,187.7 493.3,186.5 493.6,185.0 493.9,184.2 494.2,184.6 494.5,183.1 494.8,179.1 495.1,178.7 495.4,180.7 495.7,177.6 496.0,177.5 496.3,175.5 496.6,176.9 496.9,174.7 497.2,174.2 497.5,174.5 497.8,175.2 498.1,171.2 498.4,166.0 498.7,164.7 499.0,163.5 499.3,158.0 499.6,159.7 499.9,156.0 500.2,150.4 500.5,156.6 500.8,161.4 501.1,169.6 501.4,170.5 501.7,171.7 502.0,176.8 502.3,178.5 502.6,180.8 502.9,183.1 503.2,184.4 503.5,187.6 503.8,190.7 504.1,192.4 504.4,189.7 504.7,190.7 505.0,189.8 505.3,190.1 505.6,191.9 505.9,193.3 506.2,192.3 506.5,194.6 506.8,195.4 507.1,195.5 507.4,194.2 507.7,193.0 508.0,197.1 508.3,194.9 508.6,195.4 508.9,194.9 509.2,194.4 509.5,199.6 509.8,195.7 510.1,194.7 510.4,194.3 510.7,193.2 511.0,193.3 511.3,195.4 511.6,194.1 511.9,194.2 512.2,196.1 512.5,194.7 512.8,197.2 513.1,195.4 513.4,195.6 513.7,198.0 514.0,196.4 514.3,198.0 514.6,197.6 514.9,197.1 515.2,195.3 515.5,195.6 515.8,196.1 516.1,195.4 516.4,198.6 516.7,196.4 517.0,195.6 517.3,196.6 517.6,197.6 517.9,195.1 518.2,198.3 518.5,198.2 518.8,197.2 519.1,198.6 519.4,194.7 519.7,196.2 520.0,196.6 520.3,196.4 520.6,198.2 520.9,195.8 521.2,195.4 521.5,197.1 521.8,196.1 522.1,196.6 522.4,196.7 522.7,197.0 523.0,196.3 523.3,198.0 523.6,196.7 523.9,197.5 524.2,200.4 524.5,197.7 524.8,199.2 525.1,199.3 525.4,197.9 525.7,199.8 526.0,198.0 526.3,200.0 526.6,195.6 526.9,195.6 527.2,198.9 527.5,201.5 527.8,201.7 528.1,197.5 528.4,198.2 528.7,198.1 529.0,195.7 529.3,198.8 529.6,196.5 529.9,198.6 530.2,197.7 530.5,197.0 530.8,197.3 531.1,198.7 531.4,199.7 531.7,198.7 532.0,202.7 532.3,198.8 532.6,196.6 532.9,197.6 533.2,198.9 533.5,198.5 533.8,197.9 534.1,197.2 534.4,197.6 534.7,197.4 535.0,198.1 535.3,199.5 535.6,197.7 535.9,200.5 536.2,199.6 536.5,198.9 536.8,199.4 537.1,201.8 537.4,197.2 537.7,200.0 538.0,203.2 538.3,201.4 538.6,198.6 538.9,200.4 539.2,199.4 539.5,204.0 539.8,199.6 540.1,200.0 540.4,199.5 540.7,198.9 541.0,196.9 541.3,201.7 541.6,202.1 541.9,200.6 542.2,202.0 542.5,201.4 542.8,201.1 543.1,196.7 543.4,200.6 543.7,199.4 544.0,199.4 544.3,198.7 544.6,199.7 544.9,198.1 545.2,199.9 545.5,200.8 545.8,199.4 546.1,201.3 546.4,199.7 546.7,200.0 547.0,199.1 547.3,201.4 547.6,203.2 547.9,201.3 548.2,200.0 548.5,200.1 548.8,203.2 549.1,201.5 549.4,202.7 549.7,201.1 550.0,201.5 550.3,199.0 550.6,197.1 550.9,196.2 551.2,197.7 551.5,194.5 551.8,198.5 552.1,195.0 552.4,198.2 552.7,201.0 553.0,199.6 553.3,201.2 553.6,200.4 553.9,202.5 554.2,202.4 554.5,203.6 554.8,200.6 555.1,198.8 555.4,200.4 555.7,201.1 556.0,201.4 556.3,202.3 556.6,203.6 556.9,201.0 557.2,201.4 557.5,200.7 557.8,200.2 558.1,201.6 558.4,199.6 558.7,195.3 559.0,200.3 559.3,196.2 559.6,198.5 559.9,200.7 560.2,200.0 560.5,200.9 560.8,201.4 561.1,199.9 561.4,196.2 561.7,200.2 562.0,198.8 562.3,196.7 562.6,199.3 562.9,200.6 563.2,200.7 563.5,200.7 563.8,203.1 564.1,200.8 564.4,201.6 564.7,201.2 565.0,202.9 565.3,200.5 565.6,201.8 565.9,202.2 566.2,199.9 566.5,202.2 566.8,198.8 567.1,200.6 567.4,201.0 567.7,199.0 568.0,197.5 568.3,199.4 568.6,198.4 568.9,198.5 569.2,199.1 569.5,200.2 569.8,201.7 570.1,200.4 570.4,197.8 570.7,201.2 571.0,201.3 571.3,200.7 571.6,202.2 571.9,199.5 572.2,199.5 572.5,200.0 572.8,196.6 573.1,200.3 573.4,198.6 573.7,201.1 574.0,200.1 574.3,198.9 574.6,198.4 574.9,195.7 575.2,195.4 575.5,195.1 575.8,194.1 576.1,190.9 576.4,188.6 576.7,186.2 577.0,183.0 577.3,183.8 577.6,182.9 577.9,181.5 578.2,183.6 578.5,190.0 578.8,193.9 579.1,195.3 579.4,193.7 579.7,198.6 580.0,199.4 580.3,196.9 580.6,199.3 580.9,201.3 581.2,199.9 581.5,201.9 581.8,199.2 582.1,200.2 582.4,201.9 582.7,200.7 583.0,200.6 583.3,200.7 583.6,199.3 583.9,203.4 584.2,201.1 584.5,201.1 584.8,200.9 585.1,202.6 585.4,200.9 585.7,202.8 586.0,200.8 586.3,202.4 586.6,200.1 586.9,199.5 587.2,199.1 587.5,200.9 587.8,199.0 588.1,201.4 588.4,199.8 588.7,201.0 589.0,200.1 589.3,202.2 589.6,198.0 589.9,198.9 590.2,201.8 590.5,200.6 590.8,202.6 591.1,199.8 591.4,200.7 591.7,199.5 592.0,199.1 592.3,202.6 592.6,200.3 592.9,202.3 593.2,201.3 593.5,199.3 593.8,202.0 594.1,202.6 594.4,203.9 594.7,204.3 595.0,203.1 595.3,202.6 595.6,203.2 595.9,201.2 596.2,203.3 596.5,203.7 596.8,202.8 597.1,200.9 597.4,202.1 597.7,200.9 598.0,204.0 598.3,201.4 598.6,201.0 598.9,200.8 599.2,199.5 599.5,200.7 599.8,200.9 600.1,197.5 600.4,204.5 600.7,202.7 601.0,203.6 601.3,201.9 601.6,203.1 601.9,203.6 602.2,204.0 602.5,200.4 602.8,202.2 603.1,200.4 603.4,203.2 603.7,201.9 604.0,201.4 604.3,200.9 604.6,203.6 604.9,203.8 605.2,201.4 605.5,199.2 605.8,202.7 606.1,199.3 606.4,201.6 606.7,201.8 607.0,201.5 607.3,205.3 607.6,204.2 607.9,205.3 608.2,202.6 608.5,205.2 608.8,203.0 609.1,203.0 609.4,202.8 609.7,202.8 610.0,203.6 610.3,202.5 610.6,200.0 610.9,200.9 611.2,197.4 611.5,200.6 611.8,200.0 612.1,201.3 612.4,196.7 612.7,203.1 613.0,199.7 613.3,198.6 613.6,201.6 613.9,201.4 614.2,201.9 614.5,204.6 614.8,200.5 615.1,203.0 615.4,202.5 615.7,201.7 616.0,203.0 616.3,204.3 616.6,201.4 616.9,203.1 617.2,203.4 617.5,202.7 617.8,199.1 618.1,202.1 618.4,200.7 618.7,202.0 619.0,197.9 619.3,202.7 619.6,199.2 619.9,202.1 620.2,200.6 620.5,204.6 620.8,205.6 621.1,202.7 621.4,205.0 621.7,203.3 622.0,200.0 622.3,199.3 622.6,200.2 622.9,200.3 623.2,198.8 623.5,199.3 623.8,198.3 624.1,198.0 624.4,196.3 624.7,197.8 625.0,197.6 625.3,193.4 625.6,198.1 625.9,197.8 626.2,195.6 626.5,198.5 626.8,194.6 627.1,194.7 627.4,195.4 627.7,195.2 628.0,199.6 628.3,198.0 628.6,198.3 628.9,200.0 629.2,201.5 629.5,200.4 629.8,199.9 630.1,200.9 630.4,202.2 630.7,201.0 631.0,202.9 631.3,201.8 631.6,202.6 631.9,203.5 632.2,205.5 632.5,203.6 632.8,204.6 633.1,203.3 633.4,203.4 633.7,201.9 634.0,202.7 634.3,202.9 634.6,202.9 634.9,204.3 635.2,201.3 635.5,201.6 635.8,201.0 636.1,201.6 636.4,201.0 636.7,199.2 637.0,199.1 637.3,196.7 637.6,197.3 637.9,198.8 638.2,200.9 638.5,197.6 638.8,199.6 639.1,201.3 639.4,196.8 639.7,198.4 640.0,196.4 640.3,197.1 640.6,199.9 640.9,198.0 641.2,201.4 641.5,201.0 641.8,201.8 642.1,202.9 642.4,201.6 642.7,200.1 643.0,203.0 643.3,202.0 643.6,203.3 643.9,201.1 644.2,201.7 644.5,201.5 644.8,201.8 645.1,201.0 645.4,200.9 645.7,201.7 646.0,206.2 646.3,201.4 646.6,200.4 646.9,203.1 647.2,202.0 647.5,202.8 647.8,203.0 648.1,202.9 648.4,203.4 648.7,203.8 649.0,203.4 649.3,204.2 649.6,203.2 649.9,202.0 650.2,202.5 650.5,201.3 650.8,203.9 651.1,201.8 651.4,203.9 651.7,200.7 652.0,203.7 652.3,200.2 652.6,198.5 652.9,199.6 653.2,202.0 653.5,203.1 653.8,201.0 654.1,203.4 654.4,201.4 654.7,202.3 655.0,202.4 655.3,205.6 655.6,204.5 655.9,204.3 656.2,201.5 656.5,204.1 656.8,204.7 657.1,206.6 657.4,202.4 657.7,202.8 658.0,202.6 658.3,203.2 658.6,204.2 658.9,201.7 659.2,204.3 659.5,202.6 659.8,199.9 660.1,201.3 660.4,200.2 660.7,200.7 661.0,203.7 661.3,203.3 661.6,201.2 661.9,202.8 662.2,206.8 662.5,202.3 662.8,203.1 663.1,204.2 663.4,202.9 663.7,203.1 664.0,202.3 664.3,203.7 664.6,201.4 664.9,203.9 665.2,203.7 665.5,202.1 665.8,203.9 666.1,202.4 666.4,200.2 666.7,201.6 667.0,204.2 667.3,204.1 667.6,202.8 667.9,200.4 668.2,202.1 668.5,203.5 668.8,201.5 669.1,200.0 669.4,203.2 669.7,202.8 670.0,203.7 670.3,203.4 670.6,203.7 670.9,203.3 671.2,201.7 671.5,204.0 671.8,203.7 672.1,206.1 672.4,203.2 672.7,204.7 673.0,203.4 673.3,205.1 673.6,203.3 673.9,201.2 674.2,205.3 674.5,202.9 674.8,201.5 675.1,201.9 675.4,201.7 675.7,201.2 676.0,201.6 676.3,202.0 676.6,202.1 676.9,202.6"/>
<polyline fill="none" stroke="#000000" stroke-width="1.0" stroke-linejoin="round" points="376.0,240.3 376.3,239.9 376.6,243.8 376.9,241.6 377.2,240.8 377.5,240.8 377.8,240.9 378.1,235.7 378.4,239.2 378.7,237.3 379.0,235.1 379.3,239.5 379.6,237.0 379.9,238.2 380.2,237.2 380.5,237.5 380.8,240.4 381.1,238.5 381.4,239.4 381.7,235.6 382.0,241.1 382.3,238.6 382.6,240.0 382.9,237.6 383.2,239.7 383.5,240.0 383.8,237.4 384.1,239.6 384.4,237.7 384.7,241.4 385.0,241.0 385.3,240.3 385.6,242.3 385.9,239.3 386.2,237.4 386.5,240.1 386.8,238.9 387.1,240.2 387.4,237.7 387.7,243.2 388.0,240.2 388.3,240.7 388.6,240.0 388.9,240.3 389.2,243.3 389.5,240.3 389.8,237.7 390.1,238.9 390.4,239.6 390.7,240.7 391.0,240.0 391.3,240.5 391.6,243.9 391.9,240.0 392.2,240.6 392.5,237.9 392.8,239.9 393.1,238.3 393.4,241.7 393.7,240.8 394.0,241.6 394.3,240.3 394.6,241.0 394.9,241.2 395.2,241.5 395.5,240.5 395.8,240.4 396.1,241.1 396.4,241.4 396.7,240.9 397.0,242.3 397.3,241.9 397.6,239.8 397.9,243.8 398.2,240.6 398.5,240.9 398.8,241.3 399.1,236.9 399.4,240.1 399.7,241.0 400.0,241.2 400.3,240.8 400.6,241.0 400.9,237.7 401.2,239.0 401.5,240.5 401.8,236.8 402.1,238.8 402.4,239.3 402.7,241.1 403.0,242.1 403.3,240.2 403.6,238.5 403.9,238.9 404.2,240.6 404.5,241.3 404.8,240.4 405.1,240.0 405.4,240.1 405.7,238.2 406.0,239.2 406.3,241.3 406.6,239.7 406.9,242.3 407.2,242.8 407.5,245.4 407.8,242.4 408.1,242.4 408.4,240.2 408.7,239.6 409.0,238.3 409.3,237.6 409.6,240.9 409.9,239.4 410.2,240.4 410.5,237.8 410.8,237.0 411.1,238.3 411.4,243.1 411.7,242.1 412.0,238.9 412.3,240.3 412.6,240.8 412.9,238.8 413.2,239.1 413.5,241.7 413.8,241.5 414.1,241.7 414.4,241.1 414.7,241.0 415.0,241.7 415.3,239.7 415.6,241.5 415.9,239.3 416.2,241.0 416.5,239.7 416.8,238.6 417.1,239.2 417.4,239.8 417.7,239.4 418.0,242.4 418.3,241.6 418.6,239.3 418.9,237.9 419.2,237.7 419.5,237.2 419.8,240.0 420.1,240.1 420.4,238.7 420.7,239.3 421.0,238.5 421.3,241.7 421.6,238.9 421.9,239.2 422.2,240.9 422.5,236.3 422.8,240.3 423.1,240.0 423.4,238.3 423.7,239.0 424.0,240.1 424.3,237.6 424.6,237.2 424.9,239.5 425.2,238.9 425.5,238.0 425.8,238.0 426.1,238.0 426.4,237.3 426.7,237.5 427.0,238.4 427.3,237.5 427.6,235.7 427.9,238.0 428.2,238.4 428.5,238.6 428.8,239.9 429.1,238.8 429.4,239.2 429.7,237.8 430.0,237.4 430.3,238.6 430.6,238.3 430.9,235.8 431.2,236.2 431.5,240.9 431.8,236.9 432.1,237.0 432.4,234.9 432.7,236.2 433.0,237.0 433.3,236.9 433.6,232.8 433.9,232.5 434.2,231.6 434.5,235.9 434.8,237.2 435.1,235.8 435.4,235.3 435.7,236.4 436.0,234.1 436.3,235.7 436.6,237.4 436.9,236.3 437.2,235.5 437.5,234.0 437.8,234.9 438.1,234.0 438.4,237.9 438.7,235.9 439.0,234.5 439.3,234.9 439.6,235.3 439.9,234.1 440.2,236.2 440.5,236.3 440.8,236.4 441.1,235.9 441.4,232.9 441.7,235.6 442.0,234.2 442.3,232.6 442.6,239.4 442.9,233.9 443.2,234.5 443.5,233.5 443.8,232.2 444.1,234.9 444.4,230.0 444.7,233.1 445.0,232.2 445.3,234.1 445.6,233.8 445.9,233.0 446.2,230.7 446.5,234.7 446.8,235.4 447.1,235.1 447.4,234.0 447.7,235.7 448.0,234.3 448.3,235.5 448.6,236.9 448.9,234.9 449.2,234.4 449.5,235.9 449.8,234.4 450.1,233.5 450.4,236.5 450.7,233.9 451.0,233.4 451.3,233.1 451.6,234.1 451.9,233.0 452.2,232.7 452.5,234.1 452.8,233.7 453.1,231.8 453.4,231.5 453.7,234.5 454.0,233.1 454.3,235.6 454.6,235.0 454.9,235.0 455.2,235.1 455.5,237.1 455.8,234.2 456.1,234.0 456.4,233.2 456.7,234.0 457.0,233.0 457.3,234.5 457.6,232.9 457.9,236.0 458.2,235.1 458.5,235.8 458.8,233.8 459.1,235.9 459.4,236.8 459.7,233.5 460.0,231.5 460.3,233.0 460.6,232.4 460.9,233.5 461.2,234.1 461.5,231.0 461.8,234.4 462.1,233.3 462.4,234.3 462.7,234.0 463.0,236.1 463.3,233.6 463.6,235.8 463.9,234.0 464.2,235.2 464.5,234.4 464.8,235.4 465.1,234.7 465.4,234.7 465.7,232.2 466.0,234.1 466.3,235.5 466.6,234.4 466.9,234.9 467.2,234.2 467.5,233.8 467.8,231.1 468.1,232.5 468.4,233.2 468.7,233.7 469.0,232.5 469.3,231.5 469.6,235.0 469.9,235.3 470.2,236.8 470.5,233.7 470.8,230.8 471.1,232.0 471.4,230.1 471.7,227.5 472.0,225.9 472.3,222.5 472.6,222.0 472.9,219.8 473.2,217.4 473.5,214.8 473.8,211.1 474.1,210.3 474.4,205.2 474.7,206.8 475.0,201.7 475.3,200.8 475.6,201.1 475.9,201.0 476.2,208.8 476.5,208.0 476.8,211.5 477.1,215.9 477.4,216.7 477.7,221.9 478.0,218.1 478.3,227.7 478.6,227.7 478.9,226.7 479.2,231.9 479.5,230.8 479.8,230.0 480.1,228.9 480.4,234.7 480.7,227.9 481.0,233.9 481.3,236.5 481.6,234.9 481.9,233.2 482.2,233.1 482.5,234.0 482.8,236.4 483.1,235.5 483.4,233.4 483.7,233.3 484.0,237.8 484.3,234.7 484.6,233.7 484.9,238.7 485.2,234.3 485.5,234.3 485.8,235.0 486.1,237.7 486.4,235.7 486.7,236.5 487.0,233.5 487.3,235.5 487.6,236.5 487.9,235.4 488.2,236.0 488.5,234.0 488.8,230.3 489.1,232.0 489.4,232.8 489.7,233.4 490.0,234.3 490.3,235.7 490.6,233.9 490.9,232.8 491.2,237.5 491.5,235.1 491.8,233.5 492.1,236.1 492.4,237.1 492.7,235.4 493.0,235.5 493.3,238.0 493.6,235.2 493.9,236.8 494.2,237.3 494.5,235.5 494.8,238.6 495.1,233.0 495.4,238.0 495.7,232.5 496.0,232.7 496.3,233.0 496.6,232.2 496.9,230.2 497.2,226.0 497.5,223.9 497.8,223.5 498.1,219.8 498.4,211.9 498.7,212.5 499.0,207.0 499.3,202.5 499.6,196.3 499.9,192.4 500.2,196.2 500.5,191.2 500.8,199.2 501.1,204.8 501.4,205.3 501.7,215.7 502.0,220.3 502.3,219.5 502.6,223.9 502.9,225.6 503.2,226.8 503.5,228.8 503.8,232.0 504.1,235.2 504.4,233.3 504.7,234.3 505.0,235.3 505.3,234.8 505.6,236.6 505.9,233.2 506.2,233.7 506.5,236.7 506.8,234.1 507.1,235.5 507.4,235.9 507.7,235.9 508.0,234.6 508.3,235.5 508.6,236.4 508.9,237.5 509.2,236.4 509.5,236.9 509.8,236.7 510.1,238.0 510.4,234.6 510.7,238.9 511.0,238.8 511.3,238.4 511.6,236.5 511.9,239.7 512.2,236.5 512.5,239.5 512.8,237.9 513.1,236.9 513.4,238.0 513.7,237.8 514.0,238.7 514.3,239.9 514.6,238.5 514.9,238.5 515.2,240.7 515.5,240.5 515.8,239.2 516.1,239.6 516.4,239.5 516.7,239.5 517.0,239.3 517.3,237.2 517.6,238.7 517.9,238.6 518.2,239.6 518.5,238.3 518.8,236.7 519.1,238.6 519.4,239.5 519.7,239.2 520.0,238.0 520.3,239.2 520.6,235.7 520.9,234.7 521.2,236.4 521.5,234.2 521.8,237.7 522.1,239.0 522.4,242.0 522.7,236.2 523.0,237.0 523.3,238.8 523.6,237.3 523.9,238.0 524.2,240.5 524.5,238.7 524.8,238.7 525.1,240.0 525.4,235.8 525.7,238.0 526.0,237.4 526.3,238.2 526.6,236.7 526.9,238.3 527.2,239.3 527.5,240.7 527.8,238.6 528.1,240.7 528.4,236.6 528.7,240.2 529.0,240.2 529.3,237.5 529.6,238.8 529.9,239.4 530.2,240.0 530.5,241.4 530.8,239.7 531.1,239.0 531.4,237.7 531.7,238.0 532.0,238.3 532.3,237.7 532.6,236.3 532.9,236.3 533.2,235.4 533.5,236.2 533.8,236.9 534.1,236.9 534.4,238.8 534.7,234.6 535.0,238.7 535.3,237.0 535.6,240.2 535.9,240.2 536.2,241.5 536.5,240.6 536.8,238.7 537.1,240.5 537.4,240.5 537.7,239.7 538.0,238.4 538.3,238.9 538.6,239.4 538.9,239.6 539.2,242.2 539.5,238.1 539.8,238.5 540.1,238.0 540.4,237.5 540.7,238.3 541.0,237.9 541.3,237.6 541.6,239.0 541.9,239.0 542.2,236.9 542.5,238.3 542.8,238.0 543.1,237.1 543.4,237.4 543.7,237.7 544.0,238.4 544.3,238.4 544.6,237.9 544.9,238.5 545.2,240.7 545.5,238.1 545.8,239.9 546.1,239.0 546.4,243.1 546.7,240.0 547.0,238.8 547.3,238.6 547.6,237.1 547.9,238.2 548.2,241.3 548.5,238.8 548.8,237.2 549.1,238.5 549.4,238.5 549.7,237.1 550.0,239.5 550.3,239.7 550.6,237.4 550.9,240.8 551.2,236.5 551.5,237.5 551.8,240.8 552.1,240.5 552.4,241.1 552.7,236.9 553.0,237.7 553.3,238.1 553.6,240.1 553.9,239.2 554.2,239.5 554.5,241.1 554.8,239.1 555.1,240.8 555.4,237.9 555.7,239.9 556.0,238.4 556.3,238.2 556.6,236.3 556.9,236.2 557.2,235.6 557.5,238.2 557.8,235.2 558.1,239.5 558.4,237.0 558.7,236.6 559.0,239.2 559.3,237.5 559.6,239.3 559.9,239.2 560.2,241.2 560.5,240.8 560.8,239.3 561.1,237.6 561.4,240.5 561.7,239.3 562.0,239.9 562.3,240.8 562.6,240.6 562.9,238.4 563.2,240.9 563.5,237.3 563.8,238.8 564.1,237.5 564.4,238.0 564.7,236.1 565.0,239.4 565.3,237.7 565.6,239.6 565.9,237.5 566.2,238.2 566.5,238.3 566.8,240.4 567.1,237.2 567.4,237.5 567.7,236.9 568.0,237.8 568.3,236.4 568.6,239.5 568.9,238.7 569.2,238.0 569.5,239.4 569.8,239.2 570.1,236.6 570.4,237.0 570.7,238.4 571.0,239.7 571.3,234.0 571.6,236.5 571.9,238.9 572.2,237.3 572.5,239.0 572.8,237.4 573.1,235.6 573.4,236.0 573.7,237.3 574.0,234.6 574.3,235.5 574.6,234.0 574.9,232.3 575.2,233.1 575.5,230.3 575.8,227.8 576.1,223.5 576.4,224.9 576.7,219.2 577.0,219.7 577.3,218.7 577.6,217.3 577.9,216.5 578.2,217.9 578.5,219.1 578.8,222.6 579.1,223.5 579.4,224.5 579.7,228.7 580.0,229.4 580.3,233.1 580.6,234.7 580.9,231.3 581.2,233.5 581.5,237.1 581.8,239.2 582.1,237.6 582.4,238.2 582.7,237.3 583.0,243.3 583.3,238.5 583.6,239.9 583.9,239.1 584.2,237.9 584.5,240.6 584.8,240.8 585.1,238.7 585.4,239.4 585.7,239.5 586.0,240.0 586.3,240.3 586.6,238.0 586.9,237.7 587.2,237.7 587.5,235.3 587.8,237.1 588.1,238.9 588.4,237.8 588.7,237.9 589.0,240.7 589.3,240.6 589.6,239.6 589.9,238.0 590.2,237.0 590.5,236.3 590.8,237.6 591.1,235.3 591.4,236.9 591.7,240.0 592.0,241.7 592.3,240.9 592.6,240.2 592.9,242.4 593.2,239.2 593.5,240.1 593.8,239.7 594.1,242.6 594.4,242.6 594.7,239.4 595.0,238.6 595.3,240.8 595.6,241.8 595.9,241.8 596.2,240.0 596.5,238.4 596.8,240.5 597.1,241.2 597.4,238.6 597.7,239.4 598.0,240.0 598.3,238.7 598.6,239.8 598.9,240.5 599.2,240.6 599.5,238.4 599.8,238.8 600.1,240.1 600.4,240.0 600.7,239.6 601.0,243.9 601.3,236.0 601.6,237.6 601.9,238.5 602.2,239.6 602.5,241.4 602.8,239.2 603.1,239.4 603.4,240.2 603.7,239.7 604.0,241.4 604.3,244.3 604.6,239.8 604.9,241.0 605.2,241.0 605.5,238.0 605.8,241.3 606.1,239.3 606.4,237.2 606.7,239.3 607.0,240.3 607.3,238.7 607.6,241.2 607.9,237.4 608.2,237.8 608.5,240.8 608.8,240.0 609.1,240.0 609.4,238.3 609.7,238.6 610.0,239.7 610.3,240.5 610.6,240.6 610.9,242.3 611.2,242.2 611.5,239.9 611.8,239.3 612.1,242.3 612.4,239.3 612.7,241.4 613.0,239.3 613.3,240.2 613.6,240.3 613.9,239.7 614.2,241.0 614.5,240.9 614.8,240.9 615.1,241.8 615.4,243.6 615.7,239.1 616.0,242.2 616.3,243.2 616.6,241.2 616.9,242.2 617.2,242.0 617.5,241.5 617.8,239.3 618.1,239.4 618.4,238.8 618.7,237.5 619.0,239.0 619.3,237.4 619.6,238.4 619.9,237.8 620.2,240.7 620.5,238.1 620.8,237.6 621.1,240.7 621.4,239.2 621.7,240.0 622.0,239.0 622.3,239.2 622.6,239.9 622.9,236.6 623.2,241.1 623.5,239.8 623.8,235.7 624.1,238.6 624.4,235.7 624.7,234.6 625.0,235.7 625.3,234.8 625.6,234.7 625.9,236.2 626.2,235.3 626.5,234.2 626.8,233.8 627.1,237.1 627.4,234.1 627.7,236.2 628.0,235.9 628.3,237.6 628.6,240.8 628.9,240.4 629.2,240.0 629.5,242.8 629.8,240.4 630.1,242.7 630.4,242.9 630.7,240.6 631.0,240.3 631.3,241.8 631.6,237.4 631.9,239.5 632.2,239.8 632.5,239.0 632.8,240.5 633.1,241.0 633.4,240.4 633.7,239.8 634.0,240.5 634.3,240.9 634.6,241.3 634.9,239.2 635.2,239.6 635.5,242.7 635.8,241.0 636.1,241.9 636.4,239.2 636.7,239.8 637.0,239.9 637.3,239.8 637.6,239.8 637.9,239.1 638.2,242.6 638.5,238.3 638.8,241.0 639.1,237.7 639.4,240.4 639.7,239.4 640.0,240.0 640.3,240.3 640.6,239.6 640.9,239.0 641.2,239.8 641.5,239.7 641.8,240.4 642.1,241.8 642.4,237.6 642.7,239.6 643.0,237.8 643.3,238.5 643.6,239.6 643.9,239.5 644.2,239.3 644.5,238.3 644.8,240.5 645.1,239.7 645.4,240.1 645.7,241.1 646.0,239.1 646.3,239.4 646.6,243.2 646.9,241.6 647.2,239.4 647.5,242.7 647.8,244.0 648.1,240.4 648.4,239.8 648.7,240.9 649.0,241.6 649.3,240.9 649.6,240.1 649.9,241.7 650.2,241.5 650.5,239.4 650.8,240.2 651.1,241.0 651.4,240.3 651.7,241.3 652.0,241.5 652.3,244.0 652.6,241.5 652.9,242.2 653.2,239.7 653.5,240.6 653.8,243.0 654.1,239.8 654.4,242.8 654.7,241.8 655.0,241.0 655.3,240.1 655.6,238.8 655.9,238.6 656.2,239.7 656.5,240.7 656.8,243.2 657.1,240.6 657.4,241.2 657.7,239.5 658.0,242.3 658.3,242.3 658.6,243.6 658.9,244.9 659.2,242.7 659.5,241.5 659.8,243.4 660.1,244.2 660.4,243.5 660.7,242.4 661.0,243.8 661.3,241.9 661.6,242.9 661.9,242.3 662.2,238.7 662.5,243.0 662.8,244.9 663.1,241.9 663.4,242.3 663.7,243.6 664.0,241.3 664.3,242.8 664.6,243.0 664.9,241.6 665.2,241.6 665.5,240.6 665.8,241.1 666.1,242.1 666.4,241.1 666.7,240.6 667.0,239.9 667.3,242.3 667.6,240.6 667.9,239.6 668.2,242.6 668.5,238.8 668.8,240.1 669.1,243.5 669.4,245.0 669.7,242.3 670.0,242.7 670.3,239.9 670.6,241.3 670.9,241.5 671.2,242.9 671.5,241.8 671.8,244.9 672.1,241.4 672.4,244.8 672.7,242.2 673.0,244.6 673.3,244.5 673.6,245.2 673.9,241.3 674.2,239.5 674.5,242.6 674.8,240.4 675.1,239.7 675.4,240.3 675.7,240.3 676.0,244.2 676.3,243.4 676.6,245.5 676.9,244.9"/>
</g>
<path d="M29,249.6 L29,2.3 L332,2.3 L332,249.6 Z" fill="none" stroke="#3c3c3c" stroke-width="1.8" stroke-linejoin="round"/>
<line x1="29.00" y1="249.6" x2="29.00" y2="254.6" stroke="#3c3c3c" stroke-width="1.5"/>
<line x1="59.30" y1="249.6" x2="59.30" y2="254.6" stroke="#3c3c3c" stroke-width="1.5"/>
<line x1="89.60" y1="249.6" x2="89.60" y2="254.6" stroke="#3c3c3c" stroke-width="1.5"/>
<line x1="119.90" y1="249.6" x2="119.90" y2="254.6" stroke="#3c3c3c" stroke-width="1.5"/>
<line x1="150.20" y1="249.6" x2="150.20" y2="254.6" stroke="#3c3c3c" stroke-width="1.5"/>
<line x1="180.50" y1="249.6" x2="180.50" y2="254.6" stroke="#3c3c3c" stroke-width="1.5"/>
<line x1="210.80" y1="249.6" x2="210.80" y2="254.6" stroke="#3c3c3c" stroke-width="1.5"/>
<line x1="241.10" y1="249.6" x2="241.10" y2="254.6" stroke="#3c3c3c" stroke-width="1.5"/>
<line x1="271.40" y1="249.6" x2="271.40" y2="254.6" stroke="#3c3c3c" stroke-width="1.5"/>
<line x1="301.70" y1="249.6" x2="301.70" y2="254.6" stroke="#3c3c3c" stroke-width="1.5"/>
<line x1="332.00" y1="249.6" x2="332.00" y2="254.6" stroke="#3c3c3c" stroke-width="1.5"/>
<line x1="44.15" y1="249.6" x2="44.15" y2="252.6" stroke="#3c3c3c" stroke-width="1.5"/>
<line x1="74.45" y1="249.6" x2="74.45" y2="252.6" stroke="#3c3c3c" stroke-width="1.5"/>
<line x1="104.75" y1="249.6" x2="104.75" y2="252.6" stroke="#3c3c3c" stroke-width="1.5"/>
<line x1="135.05" y1="249.6" x2="135.05" y2="252.6" stroke="#3c3c3c" stroke-width="1.5"/>
<line x1="165.35" y1="249.6" x2="165.35" y2="252.6" stroke="#3c3c3c" stroke-width="1.5"/>
<line x1="195.65" y1="249.6" x2="195.65" y2="252.6" stroke="#3c3c3c" stroke-width="1.5"/>
<line x1="225.95" y1="249.6" x2="225.95" y2="252.6" stroke="#3c3c3c" stroke-width="1.5"/>
<line x1="256.25" y1="249.6" x2="256.25" y2="252.6" stroke="#3c3c3c" stroke-width="1.5"/>
<line x1="286.55" y1="249.6" x2="286.55" y2="252.6" stroke="#3c3c3c" stroke-width="1.5"/>
<line x1="316.85" y1="249.6" x2="316.85" y2="252.6" stroke="#3c3c3c" stroke-width="1.5"/>
<path d="M376,249.6 L376,2.3 L677,2.3 L677,249.6 Z" fill="none" stroke="#3c3c3c" stroke-width="1.8" stroke-linejoin="round"/>
<line x1="376.00" y1="249.6" x2="376.00" y2="254.6" stroke="#3c3c3c" stroke-width="1.5"/>
<line x1="406.10" y1="249.6" x2="406.10" y2="254.6" stroke="#3c3c3c" stroke-width="1.5"/>
<line x1="436.20" y1="249.6" x2="436.20" y2="254.6" stroke="#3c3c3c" stroke-width="1.5"/>
<line x1="466.30" y1="249.6" x2="466.30" y2="254.6" stroke="#3c3c3c" stroke-width="1.5"/>
<line x1="496.40" y1="249.6" x2="496.40" y2="254.6" stroke="#3c3c3c" stroke-width="1.5"/>
<line x1="526.50" y1="249.6" x2="526.50" y2="254.6" stroke="#3c3c3c" stroke-width="1.5"/>
<line x1="556.60" y1="249.6" x2="556.60" y2="254.6" stroke="#3c3c3c" stroke-width="1.5"/>
<line x1="586.70" y1="249.6" x2="586.70" y2="254.6" stroke="#3c3c3c" stroke-width="1.5"/>
<line x1="616.80" y1="249.6" x2="616.80" y2="254.6" stroke="#3c3c3c" stroke-width="1.5"/>
<line x1="646.90" y1="249.6" x2="646.90" y2="254.6" stroke="#3c3c3c" stroke-width="1.5"/>
<line x1="677.00" y1="249.6" x2="677.00" y2="254.6" stroke="#3c3c3c" stroke-width="1.5"/>
<line x1="391.05" y1="249.6" x2="391.05" y2="252.6" stroke="#3c3c3c" stroke-width="1.5"/>
<line x1="421.15" y1="249.6" x2="421.15" y2="252.6" stroke="#3c3c3c" stroke-width="1.5"/>
<line x1="451.25" y1="249.6" x2="451.25" y2="252.6" stroke="#3c3c3c" stroke-width="1.5"/>
<line x1="481.35" y1="249.6" x2="481.35" y2="252.6" stroke="#3c3c3c" stroke-width="1.5"/>
<line x1="511.45" y1="249.6" x2="511.45" y2="252.6" stroke="#3c3c3c" stroke-width="1.5"/>
<line x1="541.55" y1="249.6" x2="541.55" y2="252.6" stroke="#3c3c3c" stroke-width="1.5"/>
<line x1="571.65" y1="249.6" x2="571.65" y2="252.6" stroke="#3c3c3c" stroke-width="1.5"/>
<line x1="601.75" y1="249.6" x2="601.75" y2="252.6" stroke="#3c3c3c" stroke-width="1.5"/>
<line x1="631.85" y1="249.6" x2="631.85" y2="252.6" stroke="#3c3c3c" stroke-width="1.5"/>
<line x1="661.95" y1="249.6" x2="661.95" y2="252.6" stroke="#3c3c3c" stroke-width="1.5"/>
<text x="29.00" y="266" text-anchor="middle" class="tk">10</text>
<text x="59.30" y="266" text-anchor="middle" class="tk">15</text>
<text x="89.60" y="266" text-anchor="middle" class="tk">20</text>
<text x="119.90" y="266" text-anchor="middle" class="tk">25</text>
<text x="150.20" y="266" text-anchor="middle" class="tk">30</text>
<text x="180.50" y="266" text-anchor="middle" class="tk">35</text>
<text x="210.80" y="266" text-anchor="middle" class="tk">40</text>
<text x="241.10" y="266" text-anchor="middle" class="tk">45</text>
<text x="271.40" y="266" text-anchor="middle" class="tk">50</text>
<text x="301.70" y="266" text-anchor="middle" class="tk">55</text>
<text x="332.00" y="266" text-anchor="middle" class="tk">60</text>
<text x="376.00" y="266" text-anchor="middle" class="tk">10</text>
<text x="406.10" y="266" text-anchor="middle" class="tk">15</text>
<text x="436.20" y="266" text-anchor="middle" class="tk">20</text>
<text x="466.30" y="266" text-anchor="middle" class="tk">25</text>
<text x="496.40" y="266" text-anchor="middle" class="tk">30</text>
<text x="526.50" y="266" text-anchor="middle" class="tk">35</text>
<text x="556.60" y="266" text-anchor="middle" class="tk">40</text>
<text x="586.70" y="266" text-anchor="middle" class="tk">45</text>
<text x="616.80" y="266" text-anchor="middle" class="tk">50</text>
<text x="646.90" y="266" text-anchor="middle" class="tk">55</text>
<text x="677.00" y="266" text-anchor="middle" class="tk">60</text>
<text x="39.5" y="27" class="lt" font-size="15">(a)</text>
<text x="388" y="24" class="lt" font-size="15">(b)</text>
<text x="36" y="90.4" class="sm">0.6 μM Sn</text>
<text x="38" y="137.6" class="sm">0.3 μM Sn</text>
<text x="32.8" y="186" class="sm">0.1 μM Sn</text>
<text x="38.4" y="226.8" class="sm">PVA/PbS</text>
<text x="378.6" y="104.8" class="sm">0.8 μM Ag</text>
<text x="378.6" y="142.2" class="sm">0.4 μM Ag</text>
<text x="377.6" y="188.9" class="sm">0.2 μM Ag</text>
<text x="380" y="229.8" class="sm">PVA/PbS</text>
<text transform="translate(95.2,74.5) rotate(-90)" x="0" y="0" text-anchor="middle" dominant-baseline="central" class="pk pv" font-size="10">(PVA)</text>
<text transform="translate(128.1,45.4) rotate(-90)" x="0" y="0" text-anchor="middle" dominant-baseline="central" class="pk" font-size="12.5">(111)</text>
<text transform="translate(155.2,33.9) rotate(-90)" x="0" y="0" text-anchor="middle" dominant-baseline="central" class="pk" font-size="12.5">(200)</text>
<text transform="translate(223.7,33.8) rotate(-90)" x="0" y="0" text-anchor="middle" dominant-baseline="central" class="pk" font-size="12.5">(220)</text>
<text transform="translate(280.9,70.65) rotate(-90)" x="0" y="0" text-anchor="middle" dominant-baseline="central" class="pk" font-size="12.5">(311)</text>
<text transform="translate(299.7,73.05) rotate(-90)" x="0" y="0" text-anchor="middle" dominant-baseline="central" class="pk" font-size="12.5">(222)</text>
<text transform="translate(446.3,87.75) rotate(-90)" x="0" y="0" text-anchor="middle" dominant-baseline="central" class="pk pv" font-size="10">(PVA)</text>
<text transform="translate(474.59999999999997,57.449999999999996) rotate(-90)" x="0" y="0" text-anchor="middle" dominant-baseline="central" class="pk" font-size="12.5">(111)</text>
<text transform="translate(499.9,47.55) rotate(-90)" x="0" y="0" text-anchor="middle" dominant-baseline="central" class="pk" font-size="12.5">(200)</text>
<text transform="translate(568.7,15.4) rotate(-90)" x="0" y="0" text-anchor="middle" dominant-baseline="central" class="pk" font-size="12.5">(220)</text>
<text transform="translate(623.4000000000001,89.85) rotate(-90)" x="0" y="0" text-anchor="middle" dominant-baseline="central" class="pk" font-size="12.5">(311)</text>
<text transform="translate(642.7,92.5) rotate(-90)" x="0" y="0" text-anchor="middle" dominant-baseline="central" class="pk" font-size="12.5">(222)</text>
<text x="174.5" y="284.5" text-anchor="middle" class="ax">2θ(degree)</text>
<text x="522.6" y="286.5" text-anchor="middle" class="ax">2θ(degree)</text>
<text transform="translate(12,141) rotate(-90)" text-anchor="middle" class="ax">Intensity(a.u.)</text>
<text transform="translate(361.5,131) rotate(-90)" text-anchor="middle" class="ax">Intensity(a.u.)</text>
</svg>
</body></html>
